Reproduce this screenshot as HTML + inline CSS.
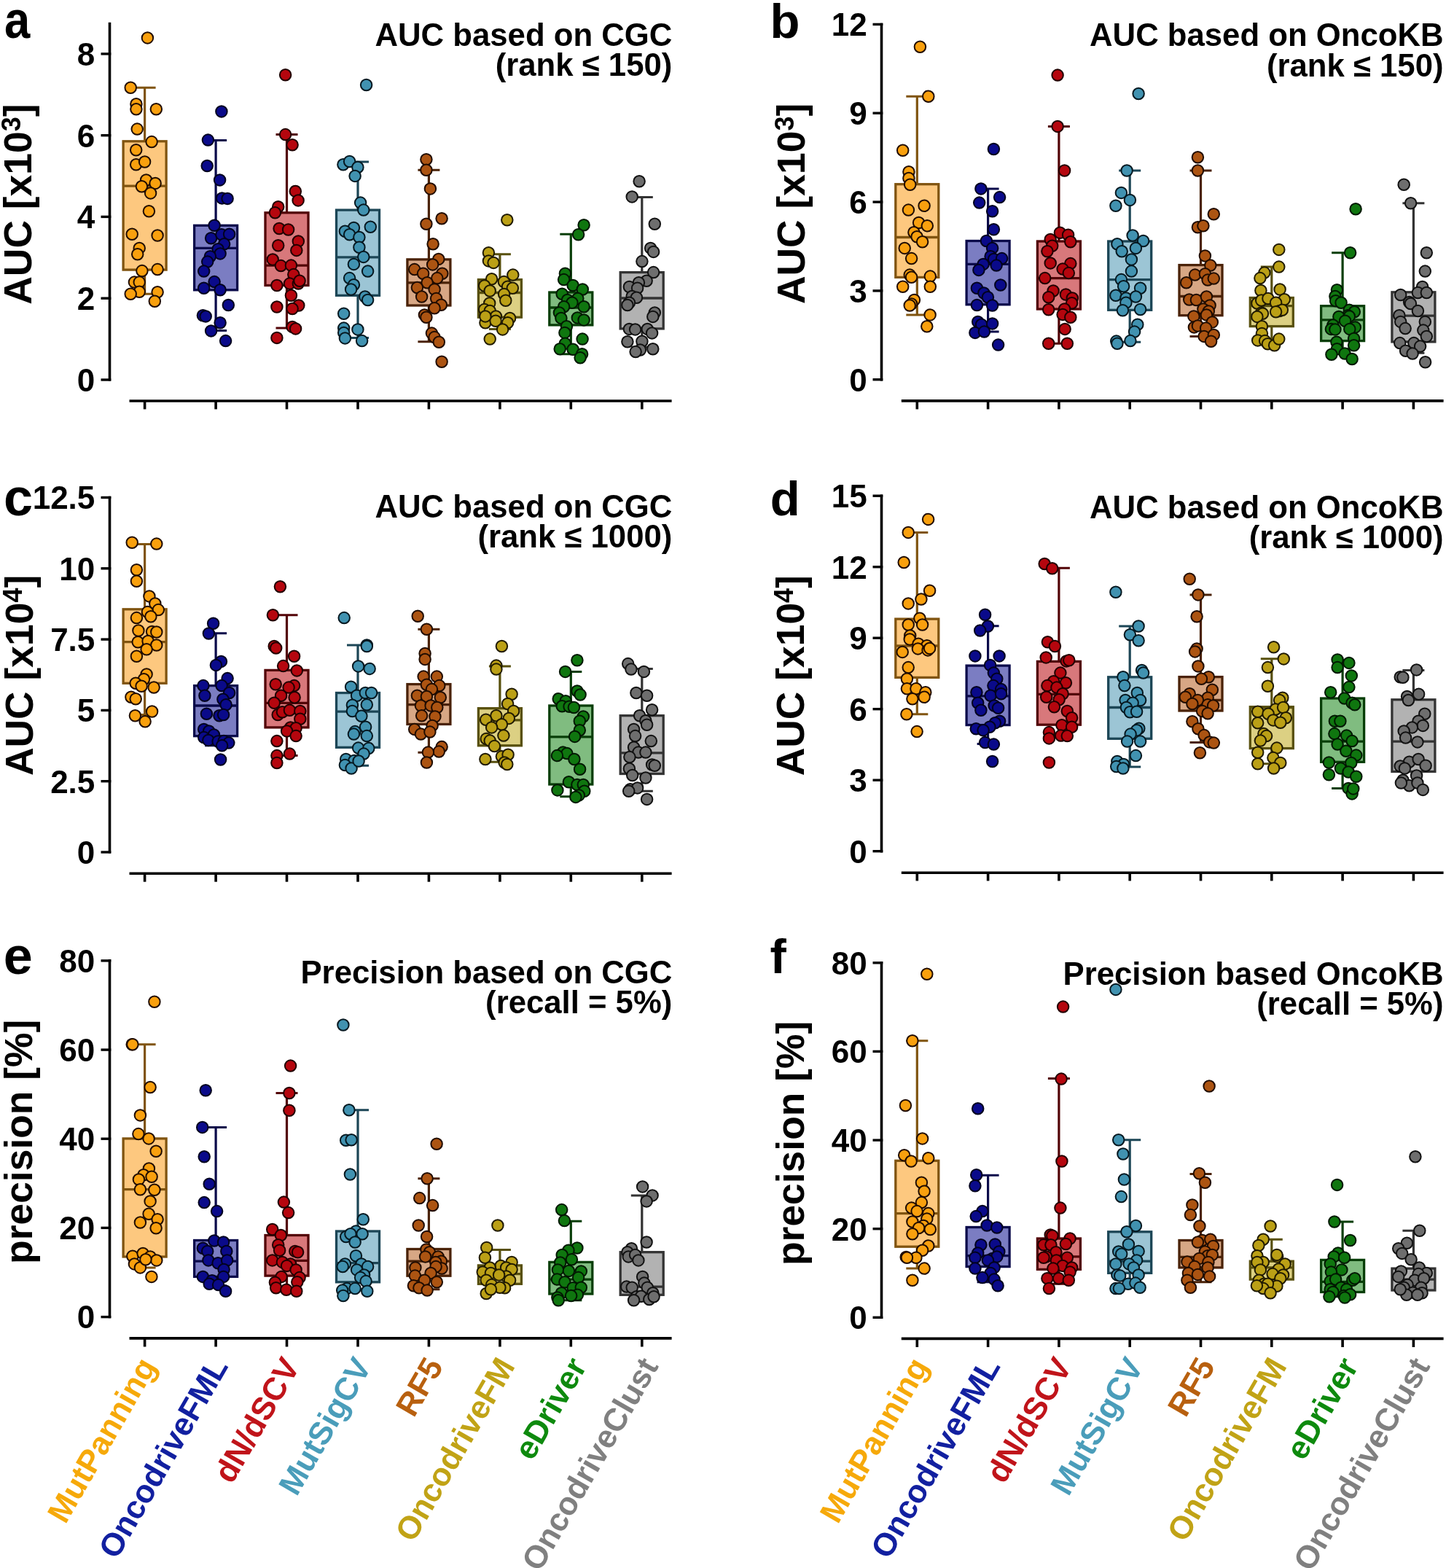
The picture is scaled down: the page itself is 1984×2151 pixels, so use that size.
<!DOCTYPE html>
<html><head><meta charset="utf-8"><title>Figure</title>
<style>
html,body{margin:0;padding:0;background:#fff;overflow:hidden;width:1984px;height:2151px;}
svg{display:block;}
text{font-family:'Liberation Sans', Arial, Helvetica, sans-serif;font-weight:bold;}
</style></head><body>
<svg width="1984" height="2151" viewBox="0 0 1984 2151">
<rect width="1984" height="2151" fill="#fff"/>
<g id="panel-a">
<text transform="translate(5.9 51.5) scale(0.88 1)" font-size="72">a</text>
<text transform="translate(42.7 280.1) rotate(-90)" font-size="53.4" text-anchor="middle">AUC [x10<tspan font-size="36" dy="-15">3</tspan><tspan dy="15">]</tspan></text>
<text x="922.3" y="63" font-size="43.7" text-anchor="end">AUC based on CGC</text>
<text x="922.3" y="104.4" font-size="43.7" text-anchor="end">(rank ≤ 150)</text>
<path d="M150.5 30.8V522.6" stroke="#000" stroke-width="3.6" fill="none"/>
<path d="M138.5 521H152.3" stroke="#000" stroke-width="3.4"/>
<text x="130.3" y="536.8" font-size="44" text-anchor="end">0</text>
<path d="M138.5 409.2H152.3" stroke="#000" stroke-width="3.4"/>
<text x="130.3" y="425" font-size="44" text-anchor="end">2</text>
<path d="M138.5 297.4H152.3" stroke="#000" stroke-width="3.4"/>
<text x="130.3" y="313.2" font-size="44" text-anchor="end">4</text>
<path d="M138.5 185.7H152.3" stroke="#000" stroke-width="3.4"/>
<text x="130.3" y="201.5" font-size="44" text-anchor="end">6</text>
<path d="M138.5 73.9H152.3" stroke="#000" stroke-width="3.4"/>
<text x="130.3" y="89.7" font-size="44" text-anchor="end">8</text>
<path d="M177.5 550H921.6" stroke="#000" stroke-width="3.6"/>
<path d="M198.6 550V561.4" stroke="#000" stroke-width="3.6"/>
<path d="M296.1 550V561.4" stroke="#000" stroke-width="3.6"/>
<path d="M393.5 550V561.4" stroke="#000" stroke-width="3.6"/>
<path d="M491 550V561.4" stroke="#000" stroke-width="3.6"/>
<path d="M588.4 550V561.4" stroke="#000" stroke-width="3.6"/>
<path d="M685.9 550V561.4" stroke="#000" stroke-width="3.6"/>
<path d="M783.3 550V561.4" stroke="#000" stroke-width="3.6"/>
<path d="M880.8 550V561.4" stroke="#000" stroke-width="3.6"/>
<g><path d="M198.6 120.3V193.8M198.6 370.1V403.3" stroke="#805410" stroke-width="3.2"/><path d="M183.6 120.3H213.6M183.6 403.3H213.6" stroke="#805410" stroke-width="3"/><rect x="169.1" y="193.8" width="59" height="176.3" fill="#FDC87F" stroke="#805410" stroke-width="3.3"/><path d="M169.1 255.2H228.1" stroke="#805410" stroke-width="3.3"/></g>
<g fill="#F9A00E" stroke="#200c00" stroke-width="2.0"><circle cx="202.4" cy="51.9" r="7.75"/><circle cx="179.2" cy="120.3" r="7.75"/><circle cx="186.9" cy="142.7" r="7.75"/><circle cx="186.9" cy="149.7" r="7.75"/><circle cx="214.3" cy="149.7" r="7.75"/><circle cx="188.2" cy="177.1" r="7.75"/><circle cx="208.1" cy="194.6" r="7.75"/><circle cx="186.7" cy="205.8" r="7.75"/><circle cx="186.7" cy="225.7" r="7.75"/><circle cx="198.6" cy="222" r="7.75"/><circle cx="200.6" cy="246.9" r="7.75"/><circle cx="194.4" cy="255.7" r="7.75"/><circle cx="213.1" cy="251.4" r="7.75"/><circle cx="206.6" cy="264.9" r="7.75"/><circle cx="204.4" cy="289.8" r="7.75"/><circle cx="181.2" cy="321.2" r="7.75"/><circle cx="216.1" cy="323" r="7.75"/><circle cx="191.2" cy="340.4" r="7.75"/><circle cx="188.7" cy="348.7" r="7.75"/><circle cx="194.9" cy="371.6" r="7.75"/><circle cx="216.1" cy="369.6" r="7.75"/><circle cx="184.4" cy="387.1" r="7.75"/><circle cx="191.2" cy="387.1" r="7.75"/><circle cx="191.2" cy="400.3" r="7.75"/><circle cx="179.2" cy="403.3" r="7.75"/><circle cx="216.1" cy="400.8" r="7.75"/><circle cx="212.3" cy="413.2" r="7.75"/></g>
<g><path d="M296.1 192.6V309.3M296.1 397.8V453.4" stroke="#0A0A4A" stroke-width="3.2"/><path d="M281.1 192.6H311.1M281.1 453.4H311.1" stroke="#0A0A4A" stroke-width="3"/><rect x="266.6" y="309.3" width="59" height="88.5" fill="#7B7DC2" stroke="#0A0A4A" stroke-width="3.3"/><path d="M266.6 340.4H325.6" stroke="#0A0A4A" stroke-width="3.3"/></g>
<g fill="#0A0A8A" stroke="#02021e" stroke-width="2.0"><circle cx="303.9" cy="152.9" r="7.75"/><circle cx="285.4" cy="192.1" r="7.75"/><circle cx="284.2" cy="227.5" r="7.75"/><circle cx="301.6" cy="246.9" r="7.75"/><circle cx="304.6" cy="271.9" r="7.75"/><circle cx="312.1" cy="272.4" r="7.75"/><circle cx="294.1" cy="309.3" r="7.75"/><circle cx="289.6" cy="326.7" r="7.75"/><circle cx="303.9" cy="321.7" r="7.75"/><circle cx="314.6" cy="321.2" r="7.75"/><circle cx="307.6" cy="334.7" r="7.75"/><circle cx="299.1" cy="341.7" r="7.75"/><circle cx="302.1" cy="347.9" r="7.75"/><circle cx="288.4" cy="351.7" r="7.75"/><circle cx="284.7" cy="359.1" r="7.75"/><circle cx="279.7" cy="372.1" r="7.75"/><circle cx="294.1" cy="386.6" r="7.75"/><circle cx="279.7" cy="395.3" r="7.75"/><circle cx="302.1" cy="397.8" r="7.75"/><circle cx="313.3" cy="418.5" r="7.75"/><circle cx="278.4" cy="432.7" r="7.75"/><circle cx="282.2" cy="433.9" r="7.75"/><circle cx="302.1" cy="442.7" r="7.75"/><circle cx="289.6" cy="453.9" r="7.75"/><circle cx="309.6" cy="467.6" r="7.75"/></g>
<g><path d="M393.5 184.6V291.8M393.5 391.5V450.1" stroke="#520306" stroke-width="3.2"/><path d="M378.5 184.6H408.5M378.5 450.1H408.5" stroke="#520306" stroke-width="3"/><rect x="364" y="291.8" width="59" height="99.7" fill="#D8787B" stroke="#520306" stroke-width="3.3"/><path d="M364 364.1H423" stroke="#520306" stroke-width="3.3"/></g>
<g fill="#B5060E" stroke="#200000" stroke-width="2.0"><circle cx="391.6" cy="102.8" r="7.75"/><circle cx="391.6" cy="184.6" r="7.75"/><circle cx="401.1" cy="198.8" r="7.75"/><circle cx="405.3" cy="262.4" r="7.75"/><circle cx="409.1" cy="274.9" r="7.75"/><circle cx="381.7" cy="283.8" r="7.75"/><circle cx="377.4" cy="291.8" r="7.75"/><circle cx="383.1" cy="313.5" r="7.75"/><circle cx="395.6" cy="315" r="7.75"/><circle cx="381.7" cy="336.7" r="7.75"/><circle cx="409.3" cy="331" r="7.75"/><circle cx="406.8" cy="343.4" r="7.75"/><circle cx="374.2" cy="355.9" r="7.75"/><circle cx="385.4" cy="364.6" r="7.75"/><circle cx="399.4" cy="364.1" r="7.75"/><circle cx="402.8" cy="376.6" r="7.75"/><circle cx="379.9" cy="391.5" r="7.75"/><circle cx="397.4" cy="389.1" r="7.75"/><circle cx="409.3" cy="389.1" r="7.75"/><circle cx="411.1" cy="385.3" r="7.75"/><circle cx="399.4" cy="405.3" r="7.75"/><circle cx="379.9" cy="421" r="7.75"/><circle cx="409.8" cy="419" r="7.75"/><circle cx="401.1" cy="423.5" r="7.75"/><circle cx="401.1" cy="448.4" r="7.75"/><circle cx="405.6" cy="450.9" r="7.75"/><circle cx="379.9" cy="463.4" r="7.75"/></g>
<g><path d="M491 222V288.1M491 405.3V463.4" stroke="#1C4656" stroke-width="3.2"/><path d="M476 222H506M476 463.4H506" stroke="#1C4656" stroke-width="3"/><rect x="461.5" y="288.1" width="59" height="117.2" fill="#9CC5D5" stroke="#1C4656" stroke-width="3.3"/><path d="M461.5 352.9H520.5" stroke="#1C4656" stroke-width="3.3"/></g>
<g fill="#4192B0" stroke="#061820" stroke-width="2.0"><circle cx="502.6" cy="116.5" r="7.75"/><circle cx="470.9" cy="225.7" r="7.75"/><circle cx="479.6" cy="221.5" r="7.75"/><circle cx="490.9" cy="229.5" r="7.75"/><circle cx="487.1" cy="241.4" r="7.75"/><circle cx="494.6" cy="278.1" r="7.75"/><circle cx="498.8" cy="288.1" r="7.75"/><circle cx="508.3" cy="311.3" r="7.75"/><circle cx="485.4" cy="312.5" r="7.75"/><circle cx="473.4" cy="317.2" r="7.75"/><circle cx="479.6" cy="321.7" r="7.75"/><circle cx="492.9" cy="325.5" r="7.75"/><circle cx="492.9" cy="339.2" r="7.75"/><circle cx="498.8" cy="352.4" r="7.75"/><circle cx="485.4" cy="362.4" r="7.75"/><circle cx="504.6" cy="372.1" r="7.75"/><circle cx="479.6" cy="381.6" r="7.75"/><circle cx="485.4" cy="390.8" r="7.75"/><circle cx="481.6" cy="397" r="7.75"/><circle cx="500.8" cy="407" r="7.75"/><circle cx="504.6" cy="411.5" r="7.75"/><circle cx="471.7" cy="430.2" r="7.75"/><circle cx="471.7" cy="450.1" r="7.75"/><circle cx="471.7" cy="456.4" r="7.75"/><circle cx="490.9" cy="451.9" r="7.75"/><circle cx="473.4" cy="463.9" r="7.75"/><circle cx="496.6" cy="467.6" r="7.75"/></g>
<g><path d="M588.4 233.2V355.9M588.4 419V468.8" stroke="#4A2208" stroke-width="3.2"/><path d="M573.4 233.2H603.4M573.4 468.8H603.4" stroke="#4A2208" stroke-width="3"/><rect x="558.9" y="355.9" width="59" height="63.1" fill="#D7A785" stroke="#4A2208" stroke-width="3.3"/><path d="M558.9 387.8H617.9" stroke="#4A2208" stroke-width="3.3"/></g>
<g fill="#AC5412" stroke="#200c00" stroke-width="2.0"><circle cx="584.9" cy="218.8" r="7.75"/><circle cx="584.9" cy="233.2" r="7.75"/><circle cx="590.4" cy="258.9" r="7.75"/><circle cx="606.1" cy="299.8" r="7.75"/><circle cx="584.9" cy="307.3" r="7.75"/><circle cx="594.1" cy="334.7" r="7.75"/><circle cx="601.8" cy="355.4" r="7.75"/><circle cx="593.6" cy="362.9" r="7.75"/><circle cx="568.7" cy="369.6" r="7.75"/><circle cx="580.6" cy="375.3" r="7.75"/><circle cx="606.8" cy="375.3" r="7.75"/><circle cx="599.8" cy="381.6" r="7.75"/><circle cx="586.1" cy="387.8" r="7.75"/><circle cx="572.4" cy="394.5" r="7.75"/><circle cx="596.1" cy="397" r="7.75"/><circle cx="578.6" cy="407" r="7.75"/><circle cx="598.6" cy="409.5" r="7.75"/><circle cx="605.3" cy="418.2" r="7.75"/><circle cx="596.1" cy="422.7" r="7.75"/><circle cx="582.4" cy="431.9" r="7.75"/><circle cx="584.9" cy="435.2" r="7.75"/><circle cx="592.4" cy="457.1" r="7.75"/><circle cx="596.1" cy="462.6" r="7.75"/><circle cx="602.3" cy="469.3" r="7.75"/><circle cx="606.1" cy="496.3" r="7.75"/></g>
<g><path d="M685.9 348.7V383.6M685.9 435.2V451.4" stroke="#58500E" stroke-width="3.2"/><path d="M670.9 348.7H700.9M670.9 451.4H700.9" stroke="#58500E" stroke-width="3"/><rect x="656.4" y="383.6" width="59" height="51.6" fill="#DCD083" stroke="#58500E" stroke-width="3.3"/><path d="M656.4 401.5H715.4" stroke="#58500E" stroke-width="3.3"/></g>
<g fill="#BBA016" stroke="#201a00" stroke-width="2.0"><circle cx="695.8" cy="301.8" r="7.75"/><circle cx="670.4" cy="346.7" r="7.75"/><circle cx="670.4" cy="357.9" r="7.75"/><circle cx="677.1" cy="360.4" r="7.75"/><circle cx="703.8" cy="377.1" r="7.75"/><circle cx="674.6" cy="382.8" r="7.75"/><circle cx="691.4" cy="386.6" r="7.75"/><circle cx="664.7" cy="392" r="7.75"/><circle cx="696.6" cy="393.3" r="7.75"/><circle cx="703.3" cy="395.3" r="7.75"/><circle cx="672.2" cy="399" r="7.75"/><circle cx="691.6" cy="403.5" r="7.75"/><circle cx="693.8" cy="412.2" r="7.75"/><circle cx="671.7" cy="416" r="7.75"/><circle cx="664.7" cy="424.5" r="7.75"/><circle cx="672.2" cy="426.5" r="7.75"/><circle cx="680.4" cy="433.9" r="7.75"/><circle cx="699.6" cy="436.4" r="7.75"/><circle cx="665.9" cy="442.7" r="7.75"/><circle cx="680.1" cy="440.2" r="7.75"/><circle cx="696.6" cy="442.7" r="7.75"/><circle cx="689.6" cy="451.9" r="7.75"/><circle cx="672.2" cy="465.1" r="7.75"/><circle cx="665.9" cy="433.9" r="7.75"/></g>
<g><path d="M783.3 321.2V401M783.3 445.9V485.8" stroke="#083E08" stroke-width="3.2"/><path d="M768.3 321.2H798.3M768.3 485.8H798.3" stroke="#083E08" stroke-width="3"/><rect x="753.8" y="401" width="59" height="44.9" fill="#80BC80" stroke="#083E08" stroke-width="3.3"/><path d="M753.8 422H812.8" stroke="#083E08" stroke-width="3.3"/></g>
<g fill="#0F760F" stroke="#021802" stroke-width="2.0"><circle cx="801.1" cy="308.8" r="7.75"/><circle cx="793.6" cy="321.7" r="7.75"/><circle cx="775.4" cy="375.3" r="7.75"/><circle cx="773.6" cy="383.6" r="7.75"/><circle cx="786.1" cy="391.5" r="7.75"/><circle cx="799.3" cy="397" r="7.75"/><circle cx="771.2" cy="403.3" r="7.75"/><circle cx="792.8" cy="409.5" r="7.75"/><circle cx="778.6" cy="411.5" r="7.75"/><circle cx="784.9" cy="415.2" r="7.75"/><circle cx="773.6" cy="420.7" r="7.75"/><circle cx="801.1" cy="420.7" r="7.75"/><circle cx="767.4" cy="429" r="7.75"/><circle cx="769.9" cy="436.4" r="7.75"/><circle cx="792.3" cy="435.9" r="7.75"/><circle cx="801.1" cy="438.9" r="7.75"/><circle cx="777.4" cy="447.7" r="7.75"/><circle cx="774.9" cy="456.4" r="7.75"/><circle cx="799.1" cy="465.1" r="7.75"/><circle cx="775.4" cy="471.3" r="7.75"/><circle cx="768.2" cy="478.8" r="7.75"/><circle cx="786.1" cy="479.3" r="7.75"/><circle cx="798.6" cy="485.8" r="7.75"/><circle cx="796.1" cy="490.8" r="7.75"/></g>
<g><path d="M880.8 270.6V373.6M880.8 450.9V476.3" stroke="#333333" stroke-width="3.2"/><path d="M865.8 270.6H895.8M865.8 476.3H895.8" stroke="#333333" stroke-width="3"/><rect x="851.2" y="373.6" width="59" height="77.3" fill="#B2B2B2" stroke="#333333" stroke-width="3.3"/><path d="M851.2 409H910.2" stroke="#333333" stroke-width="3.3"/></g>
<g fill="#6E6E6E" stroke="#111111" stroke-width="2.0"><circle cx="877.1" cy="248.7" r="7.75"/><circle cx="867.2" cy="269.9" r="7.75"/><circle cx="898.3" cy="307.3" r="7.75"/><circle cx="892.6" cy="340.4" r="7.75"/><circle cx="896.6" cy="345.4" r="7.75"/><circle cx="880.9" cy="358.6" r="7.75"/><circle cx="896.6" cy="373.6" r="7.75"/><circle cx="887.1" cy="385.3" r="7.75"/><circle cx="876.4" cy="387.8" r="7.75"/><circle cx="863.4" cy="393.5" r="7.75"/><circle cx="874.6" cy="395.3" r="7.75"/><circle cx="867.2" cy="406.5" r="7.75"/><circle cx="873.4" cy="408.3" r="7.75"/><circle cx="863.4" cy="415.2" r="7.75"/><circle cx="860.9" cy="418.5" r="7.75"/><circle cx="898.3" cy="429" r="7.75"/><circle cx="895.8" cy="434.4" r="7.75"/><circle cx="863.4" cy="451.4" r="7.75"/><circle cx="871.6" cy="451.9" r="7.75"/><circle cx="888.3" cy="451.4" r="7.75"/><circle cx="894.6" cy="456.9" r="7.75"/><circle cx="860.9" cy="468.8" r="7.75"/><circle cx="880.9" cy="468.3" r="7.75"/><circle cx="895.8" cy="478.8" r="7.75"/><circle cx="878.4" cy="480.1" r="7.75"/><circle cx="872.1" cy="482.6" r="7.75"/></g>
</g>
<g id="panel-b">
<text x="1056.4" y="51.5" font-size="67">b</text>
<text transform="translate(1103.9 279.4) rotate(-90)" font-size="53.4" text-anchor="middle">AUC [x10<tspan font-size="36" dy="-15">3</tspan><tspan dy="15">]</tspan></text>
<text x="1980.5" y="63.3" font-size="43.7" text-anchor="end">AUC based on OncoKB</text>
<text x="1980.5" y="104.7" font-size="43.7" text-anchor="end">(rank ≤ 150)</text>
<path d="M1209.5 31.7V522.4" stroke="#000" stroke-width="3.6" fill="none"/>
<path d="M1197.5 520.7H1211.3" stroke="#000" stroke-width="3.4"/>
<text x="1189.7" y="536.5" font-size="44" text-anchor="end">0</text>
<path d="M1197.5 398.9H1211.3" stroke="#000" stroke-width="3.4"/>
<text x="1189.7" y="414.7" font-size="44" text-anchor="end">3</text>
<path d="M1197.5 277.1H1211.3" stroke="#000" stroke-width="3.4"/>
<text x="1189.7" y="292.9" font-size="44" text-anchor="end">6</text>
<path d="M1197.5 155.2H1211.3" stroke="#000" stroke-width="3.4"/>
<text x="1189.7" y="171" font-size="44" text-anchor="end">9</text>
<path d="M1197.5 33.4H1211.3" stroke="#000" stroke-width="3.4"/>
<text x="1189.7" y="49.2" font-size="44" text-anchor="end">12</text>
<path d="M1236.8 549.9H1980.6" stroke="#000" stroke-width="3.6"/>
<path d="M1258.3 549.9V561.4" stroke="#000" stroke-width="3.6"/>
<path d="M1355.6 549.9V561.4" stroke="#000" stroke-width="3.6"/>
<path d="M1452.9 549.9V561.4" stroke="#000" stroke-width="3.6"/>
<path d="M1550.2 549.9V561.4" stroke="#000" stroke-width="3.6"/>
<path d="M1647.5 549.9V561.4" stroke="#000" stroke-width="3.6"/>
<path d="M1744.8 549.9V561.4" stroke="#000" stroke-width="3.6"/>
<path d="M1842.1 549.9V561.4" stroke="#000" stroke-width="3.6"/>
<path d="M1939.4 549.9V561.4" stroke="#000" stroke-width="3.6"/>
<g><path d="M1258.3 132.2V252.7M1258.3 380.3V431.9" stroke="#805410" stroke-width="3.2"/><path d="M1243.3 132.2H1273.3M1243.3 431.9H1273.3" stroke="#805410" stroke-width="3"/><rect x="1228.8" y="252.7" width="59" height="127.7" fill="#FDC87F" stroke="#805410" stroke-width="3.3"/><path d="M1228.8 325.5H1287.8" stroke="#805410" stroke-width="3.3"/></g>
<g fill="#F9A00E" stroke="#200c00" stroke-width="2.0"><circle cx="1262.4" cy="64.2" r="7.75"/><circle cx="1273.8" cy="132.2" r="7.75"/><circle cx="1238.7" cy="206.3" r="7.75"/><circle cx="1246.9" cy="235.7" r="7.75"/><circle cx="1246.9" cy="244.4" r="7.75"/><circle cx="1248.7" cy="253.2" r="7.75"/><circle cx="1246.4" cy="288.1" r="7.75"/><circle cx="1268.1" cy="282.3" r="7.75"/><circle cx="1260.6" cy="305.5" r="7.75"/><circle cx="1272.3" cy="309.8" r="7.75"/><circle cx="1253.9" cy="318.7" r="7.75"/><circle cx="1258.1" cy="324.7" r="7.75"/><circle cx="1265.6" cy="331.7" r="7.75"/><circle cx="1241.2" cy="340.4" r="7.75"/><circle cx="1250.6" cy="354.6" r="7.75"/><circle cx="1248.2" cy="377.1" r="7.75"/><circle cx="1250.6" cy="380.3" r="7.75"/><circle cx="1276.3" cy="379.1" r="7.75"/><circle cx="1238.7" cy="393.3" r="7.75"/><circle cx="1276.3" cy="393.3" r="7.75"/><circle cx="1254.4" cy="411.5" r="7.75"/><circle cx="1250.6" cy="417" r="7.75"/><circle cx="1248.2" cy="419" r="7.75"/><circle cx="1276.1" cy="431.9" r="7.75"/><circle cx="1271.8" cy="447.7" r="7.75"/></g>
<g><path d="M1355.6 258.9V330.5M1355.6 417.7V455.1" stroke="#0A0A4A" stroke-width="3.2"/><path d="M1340.6 258.9H1370.6M1340.6 455.1H1370.6" stroke="#0A0A4A" stroke-width="3"/><rect x="1326.1" y="330.5" width="59" height="87.3" fill="#7B7DC2" stroke="#0A0A4A" stroke-width="3.3"/><path d="M1326.1 362.4H1385.1" stroke="#0A0A4A" stroke-width="3.3"/></g>
<g fill="#0A0A8A" stroke="#02021e" stroke-width="2.0"><circle cx="1363.4" cy="204.5" r="7.75"/><circle cx="1345.9" cy="258.9" r="7.75"/><circle cx="1371.6" cy="270.6" r="7.75"/><circle cx="1343.7" cy="278.1" r="7.75"/><circle cx="1361.6" cy="289.8" r="7.75"/><circle cx="1363.4" cy="314.8" r="7.75"/><circle cx="1353.4" cy="330.5" r="7.75"/><circle cx="1361.6" cy="340.4" r="7.75"/><circle cx="1359.1" cy="351.7" r="7.75"/><circle cx="1363.6" cy="355.4" r="7.75"/><circle cx="1374.6" cy="354.6" r="7.75"/><circle cx="1349.1" cy="362.4" r="7.75"/><circle cx="1367.1" cy="364.1" r="7.75"/><circle cx="1342.9" cy="370.4" r="7.75"/><circle cx="1372.8" cy="391" r="7.75"/><circle cx="1340.4" cy="395.3" r="7.75"/><circle cx="1349.9" cy="402" r="7.75"/><circle cx="1355.4" cy="407.8" r="7.75"/><circle cx="1340.4" cy="418.5" r="7.75"/><circle cx="1361.6" cy="419" r="7.75"/><circle cx="1341.7" cy="441.4" r="7.75"/><circle cx="1346.6" cy="445.2" r="7.75"/><circle cx="1361.6" cy="443.9" r="7.75"/><circle cx="1337.9" cy="456.4" r="7.75"/><circle cx="1350.4" cy="455.1" r="7.75"/><circle cx="1369.6" cy="473.1" r="7.75"/></g>
<g><path d="M1452.9 173.4V331M1452.9 424V471.3" stroke="#520306" stroke-width="3.2"/><path d="M1437.9 173.4H1467.9M1437.9 471.3H1467.9" stroke="#520306" stroke-width="3"/><rect x="1423.4" y="331" width="59" height="93" fill="#D8787B" stroke="#520306" stroke-width="3.3"/><path d="M1423.4 381.6H1482.4" stroke="#520306" stroke-width="3.3"/></g>
<g fill="#B5060E" stroke="#200000" stroke-width="2.0"><circle cx="1451.1" cy="103.1" r="7.75"/><circle cx="1451.1" cy="173.4" r="7.75"/><circle cx="1460.6" cy="234" r="7.75"/><circle cx="1454.4" cy="319.2" r="7.75"/><circle cx="1465.6" cy="322.2" r="7.75"/><circle cx="1441.2" cy="328.5" r="7.75"/><circle cx="1468.8" cy="331.7" r="7.75"/><circle cx="1443.7" cy="337.2" r="7.75"/><circle cx="1436.9" cy="344.7" r="7.75"/><circle cx="1441.2" cy="360.9" r="7.75"/><circle cx="1468.8" cy="361.6" r="7.75"/><circle cx="1458.1" cy="369.1" r="7.75"/><circle cx="1466.3" cy="374.6" r="7.75"/><circle cx="1433.7" cy="381.6" r="7.75"/><circle cx="1445.1" cy="399" r="7.75"/><circle cx="1438.7" cy="407.8" r="7.75"/><circle cx="1462.4" cy="404" r="7.75"/><circle cx="1471.3" cy="409" r="7.75"/><circle cx="1470.6" cy="415.7" r="7.75"/><circle cx="1438.7" cy="424.7" r="7.75"/><circle cx="1460.6" cy="424" r="7.75"/><circle cx="1458.1" cy="431.4" r="7.75"/><circle cx="1468.8" cy="435.2" r="7.75"/><circle cx="1461.1" cy="451.4" r="7.75"/><circle cx="1438.7" cy="471.3" r="7.75"/><circle cx="1464.3" cy="471.3" r="7.75"/></g>
<g><path d="M1550.2 234V331M1550.2 425.2V469.3" stroke="#1C4656" stroke-width="3.2"/><path d="M1535.2 234H1565.2M1535.2 469.3H1565.2" stroke="#1C4656" stroke-width="3"/><rect x="1520.7" y="331" width="59" height="94.3" fill="#9CC5D5" stroke="#1C4656" stroke-width="3.3"/><path d="M1520.7 383.6H1579.7" stroke="#1C4656" stroke-width="3.3"/></g>
<g fill="#4192B0" stroke="#061820" stroke-width="2.0"><circle cx="1562.1" cy="128.5" r="7.75"/><circle cx="1546.1" cy="234" r="7.75"/><circle cx="1538.4" cy="264.4" r="7.75"/><circle cx="1550.4" cy="274.4" r="7.75"/><circle cx="1530.9" cy="282.3" r="7.75"/><circle cx="1554.1" cy="323" r="7.75"/><circle cx="1568.6" cy="330.5" r="7.75"/><circle cx="1532.9" cy="334.7" r="7.75"/><circle cx="1539.2" cy="344.7" r="7.75"/><circle cx="1558.4" cy="340.4" r="7.75"/><circle cx="1552.4" cy="355.9" r="7.75"/><circle cx="1552.4" cy="372.1" r="7.75"/><circle cx="1538.4" cy="383.6" r="7.75"/><circle cx="1541.6" cy="392.8" r="7.75"/><circle cx="1564.6" cy="395.3" r="7.75"/><circle cx="1530.9" cy="405.3" r="7.75"/><circle cx="1544.9" cy="409" r="7.75"/><circle cx="1558.4" cy="407" r="7.75"/><circle cx="1544.9" cy="415.2" r="7.75"/><circle cx="1540.4" cy="425.7" r="7.75"/><circle cx="1564.6" cy="424.5" r="7.75"/><circle cx="1560.8" cy="445.2" r="7.75"/><circle cx="1556.6" cy="455.1" r="7.75"/><circle cx="1531.7" cy="468.1" r="7.75"/><circle cx="1532.9" cy="471.3" r="7.75"/><circle cx="1550.9" cy="467.6" r="7.75"/></g>
<g><path d="M1647.5 234V363.6M1647.5 432.7V461.4" stroke="#4A2208" stroke-width="3.2"/><path d="M1632.5 234H1662.5M1632.5 461.4H1662.5" stroke="#4A2208" stroke-width="3"/><rect x="1618" y="363.6" width="59" height="69.1" fill="#D7A785" stroke="#4A2208" stroke-width="3.3"/><path d="M1618 406.5H1677" stroke="#4A2208" stroke-width="3.3"/></g>
<g fill="#AC5412" stroke="#200c00" stroke-width="2.0"><circle cx="1643.4" cy="215.8" r="7.75"/><circle cx="1643.4" cy="234" r="7.75"/><circle cx="1665.3" cy="293.8" r="7.75"/><circle cx="1643.4" cy="311.8" r="7.75"/><circle cx="1650.9" cy="309.8" r="7.75"/><circle cx="1653.4" cy="350.9" r="7.75"/><circle cx="1660.8" cy="364.1" r="7.75"/><circle cx="1639.6" cy="377.1" r="7.75"/><circle cx="1653.4" cy="375.8" r="7.75"/><circle cx="1657.1" cy="384.1" r="7.75"/><circle cx="1665.3" cy="382.1" r="7.75"/><circle cx="1627.7" cy="387.8" r="7.75"/><circle cx="1631.7" cy="411" r="7.75"/><circle cx="1641.4" cy="411.5" r="7.75"/><circle cx="1655.4" cy="407" r="7.75"/><circle cx="1660.1" cy="419" r="7.75"/><circle cx="1650.9" cy="424" r="7.75"/><circle cx="1658.3" cy="427" r="7.75"/><circle cx="1637.9" cy="433.9" r="7.75"/><circle cx="1655.4" cy="431.9" r="7.75"/><circle cx="1663.3" cy="441.9" r="7.75"/><circle cx="1638.4" cy="448.9" r="7.75"/><circle cx="1643.4" cy="446.9" r="7.75"/><circle cx="1654.6" cy="450.1" r="7.75"/><circle cx="1652.1" cy="461.4" r="7.75"/><circle cx="1665.3" cy="459.4" r="7.75"/><circle cx="1661.6" cy="468.3" r="7.75"/></g>
<g><path d="M1744.8 366.1V408.5M1744.8 447.7V465.1" stroke="#58500E" stroke-width="3.2"/><path d="M1729.8 366.1H1759.8M1729.8 465.1H1759.8" stroke="#58500E" stroke-width="3"/><rect x="1715.3" y="408.5" width="59" height="39.1" fill="#DCD083" stroke="#58500E" stroke-width="3.3"/><path d="M1715.3 419.7H1774.3" stroke="#58500E" stroke-width="3.3"/></g>
<g fill="#BBA016" stroke="#201a00" stroke-width="2.0"><circle cx="1754.8" cy="342.4" r="7.75"/><circle cx="1754.8" cy="366.1" r="7.75"/><circle cx="1734.9" cy="374.1" r="7.75"/><circle cx="1728.9" cy="381.6" r="7.75"/><circle cx="1756.1" cy="397" r="7.75"/><circle cx="1729.9" cy="398.5" r="7.75"/><circle cx="1724.9" cy="416" r="7.75"/><circle cx="1730.7" cy="412" r="7.75"/><circle cx="1739.9" cy="409.5" r="7.75"/><circle cx="1762.3" cy="410.7" r="7.75"/><circle cx="1750.6" cy="415.2" r="7.75"/><circle cx="1755.6" cy="426.5" r="7.75"/><circle cx="1759.3" cy="425.2" r="7.75"/><circle cx="1730.7" cy="429" r="7.75"/><circle cx="1732.4" cy="430.2" r="7.75"/><circle cx="1750.6" cy="427.7" r="7.75"/><circle cx="1724.9" cy="434.4" r="7.75"/><circle cx="1731.4" cy="447.7" r="7.75"/><circle cx="1731.4" cy="457.6" r="7.75"/><circle cx="1725.7" cy="466.9" r="7.75"/><circle cx="1735.6" cy="467.6" r="7.75"/><circle cx="1739.4" cy="471.8" r="7.75"/><circle cx="1748.6" cy="473.8" r="7.75"/><circle cx="1754.8" cy="465.1" r="7.75"/></g>
<g><path d="M1842.1 346.7V419.7M1842.1 467.6V478.8" stroke="#083E08" stroke-width="3.2"/><path d="M1827.1 346.7H1857.1M1827.1 478.8H1857.1" stroke="#083E08" stroke-width="3"/><rect x="1812.6" y="419.7" width="59" height="47.9" fill="#80BC80" stroke="#083E08" stroke-width="3.3"/><path d="M1812.6 438.9H1871.6" stroke="#083E08" stroke-width="3.3"/></g>
<g fill="#0F760F" stroke="#021802" stroke-width="2.0"><circle cx="1860.1" cy="286.8" r="7.75"/><circle cx="1852.6" cy="346.7" r="7.75"/><circle cx="1834.4" cy="397.8" r="7.75"/><circle cx="1831.9" cy="406.5" r="7.75"/><circle cx="1832.6" cy="412.7" r="7.75"/><circle cx="1840.1" cy="415.2" r="7.75"/><circle cx="1851.3" cy="425.2" r="7.75"/><circle cx="1858.3" cy="427.7" r="7.75"/><circle cx="1849.4" cy="432.7" r="7.75"/><circle cx="1836.9" cy="434.4" r="7.75"/><circle cx="1851.3" cy="433.9" r="7.75"/><circle cx="1845.6" cy="440.2" r="7.75"/><circle cx="1828.9" cy="445.9" r="7.75"/><circle cx="1859.3" cy="448.9" r="7.75"/><circle cx="1826.4" cy="451.4" r="7.75"/><circle cx="1831.9" cy="451.9" r="7.75"/><circle cx="1851.8" cy="451.4" r="7.75"/><circle cx="1857.6" cy="464.4" r="7.75"/><circle cx="1833.9" cy="469.3" r="7.75"/><circle cx="1857.6" cy="473.8" r="7.75"/><circle cx="1834.4" cy="478.8" r="7.75"/><circle cx="1826.9" cy="486.3" r="7.75"/><circle cx="1845.1" cy="485.1" r="7.75"/><circle cx="1855.1" cy="492.5" r="7.75"/></g>
<g><path d="M1939.4 278.8V400.8M1939.4 468.8V484.3" stroke="#333333" stroke-width="3.2"/><path d="M1924.4 278.8H1954.4M1924.4 484.3H1954.4" stroke="#333333" stroke-width="3"/><rect x="1909.9" y="400.8" width="59" height="68.1" fill="#B2B2B2" stroke="#333333" stroke-width="3.3"/><path d="M1909.9 433.2H1968.9" stroke="#333333" stroke-width="3.3"/></g>
<g fill="#6E6E6E" stroke="#111111" stroke-width="2.0"><circle cx="1926.2" cy="253.2" r="7.75"/><circle cx="1935.6" cy="278.8" r="7.75"/><circle cx="1957.3" cy="346.7" r="7.75"/><circle cx="1955.3" cy="372.1" r="7.75"/><circle cx="1951.6" cy="393.5" r="7.75"/><circle cx="1921.7" cy="404.5" r="7.75"/><circle cx="1945.4" cy="401.5" r="7.75"/><circle cx="1957.3" cy="401.5" r="7.75"/><circle cx="1933.6" cy="414.5" r="7.75"/><circle cx="1935.4" cy="416.5" r="7.75"/><circle cx="1945.4" cy="426.5" r="7.75"/><circle cx="1919.9" cy="432.7" r="7.75"/><circle cx="1921.7" cy="441.4" r="7.75"/><circle cx="1955.3" cy="441.4" r="7.75"/><circle cx="1928.1" cy="450.6" r="7.75"/><circle cx="1952.8" cy="453.1" r="7.75"/><circle cx="1957.3" cy="461.4" r="7.75"/><circle cx="1920.7" cy="470.6" r="7.75"/><circle cx="1939.9" cy="470.6" r="7.75"/><circle cx="1948.6" cy="475.1" r="7.75"/><circle cx="1928.6" cy="481.3" r="7.75"/><circle cx="1938.1" cy="485.1" r="7.75"/><circle cx="1955.6" cy="496.8" r="7.75"/></g>
</g>
<g id="panel-c">
<text x="4.9" y="707" font-size="72">c</text>
<text transform="translate(44.6 926.4) rotate(-90)" font-size="53.4" text-anchor="middle">AUC [x10<tspan font-size="36" dy="-15">4</tspan><tspan dy="15">]</tspan></text>
<text x="922.3" y="710" font-size="43.7" text-anchor="end">AUC based on CGC</text>
<text x="922.3" y="751.4" font-size="43.7" text-anchor="end">(rank ≤ 1000)</text>
<path d="M150.5 680.7V1170.6" stroke="#000" stroke-width="3.6" fill="none"/>
<path d="M138.5 1169H152.3" stroke="#000" stroke-width="3.4"/>
<text x="130.3" y="1184.8" font-size="44" text-anchor="end">0</text>
<path d="M138.5 1071.7H152.3" stroke="#000" stroke-width="3.4"/>
<text x="130.3" y="1087.5" font-size="44" text-anchor="end">2.5</text>
<path d="M138.5 974.4H152.3" stroke="#000" stroke-width="3.4"/>
<text x="130.3" y="990.2" font-size="44" text-anchor="end">5</text>
<path d="M138.5 877.1H152.3" stroke="#000" stroke-width="3.4"/>
<text x="130.3" y="892.9" font-size="44" text-anchor="end">7.5</text>
<path d="M138.5 779.8H152.3" stroke="#000" stroke-width="3.4"/>
<text x="130.3" y="795.6" font-size="44" text-anchor="end">10</text>
<path d="M138.5 682.5H152.3" stroke="#000" stroke-width="3.4"/>
<text x="130.3" y="698.3" font-size="44" text-anchor="end">12.5</text>
<path d="M177.5 1198.2H921.6" stroke="#000" stroke-width="3.6"/>
<path d="M198.6 1198.2V1209.7" stroke="#000" stroke-width="3.6"/>
<path d="M296.1 1198.2V1209.7" stroke="#000" stroke-width="3.6"/>
<path d="M393.5 1198.2V1209.7" stroke="#000" stroke-width="3.6"/>
<path d="M491 1198.2V1209.7" stroke="#000" stroke-width="3.6"/>
<path d="M588.4 1198.2V1209.7" stroke="#000" stroke-width="3.6"/>
<path d="M685.9 1198.2V1209.7" stroke="#000" stroke-width="3.6"/>
<path d="M783.3 1198.2V1209.7" stroke="#000" stroke-width="3.6"/>
<path d="M880.8 1198.2V1209.7" stroke="#000" stroke-width="3.6"/>
<g><path d="M198.6 746.6V835.8M198.6 937.3V980.5" stroke="#805410" stroke-width="3.2"/><path d="M183.6 746.6H213.6M183.6 980.5H213.6" stroke="#805410" stroke-width="3"/><rect x="169.1" y="835.8" width="59" height="101.5" fill="#FDC87F" stroke="#805410" stroke-width="3.3"/><path d="M169.1 880.7H228.1" stroke="#805410" stroke-width="3.3"/></g>
<g fill="#F9A00E" stroke="#200c00" stroke-width="2.0"><circle cx="181.2" cy="744.3" r="7.75"/><circle cx="214.8" cy="746.1" r="7.75"/><circle cx="187.4" cy="781.7" r="7.75"/><circle cx="187.4" cy="797.2" r="7.75"/><circle cx="204.9" cy="817.9" r="7.75"/><circle cx="212.8" cy="827.9" r="7.75"/><circle cx="217.3" cy="836.6" r="7.75"/><circle cx="202.4" cy="839.6" r="7.75"/><circle cx="206.9" cy="845.8" r="7.75"/><circle cx="187.4" cy="847.6" r="7.75"/><circle cx="189.9" cy="865" r="7.75"/><circle cx="208.6" cy="866.5" r="7.75"/><circle cx="214.8" cy="867" r="7.75"/><circle cx="189.2" cy="880.7" r="7.75"/><circle cx="203.1" cy="879.5" r="7.75"/><circle cx="214.8" cy="885" r="7.75"/><circle cx="201.1" cy="890.7" r="7.75"/><circle cx="187.4" cy="900.2" r="7.75"/><circle cx="201.1" cy="924.9" r="7.75"/><circle cx="197.4" cy="931.8" r="7.75"/><circle cx="186.2" cy="937.3" r="7.75"/><circle cx="194.1" cy="941.3" r="7.75"/><circle cx="211.1" cy="943.1" r="7.75"/><circle cx="179.9" cy="956.3" r="7.75"/><circle cx="186.2" cy="958.8" r="7.75"/><circle cx="208.6" cy="976" r="7.75"/><circle cx="185.4" cy="981.7" r="7.75"/><circle cx="199.1" cy="989.7" r="7.75"/></g>
<g><path d="M296.1 868.8V940.6M296.1 1009.6V1022.8" stroke="#0A0A4A" stroke-width="3.2"/><path d="M281.1 868.8H311.1M281.1 1022.8H311.1" stroke="#0A0A4A" stroke-width="3"/><rect x="266.6" y="940.6" width="59" height="69.1" fill="#7B7DC2" stroke="#0A0A4A" stroke-width="3.3"/><path d="M266.6 968H325.6" stroke="#0A0A4A" stroke-width="3.3"/></g>
<g fill="#0A0A8A" stroke="#02021e" stroke-width="2.0"><circle cx="292.6" cy="855.3" r="7.75"/><circle cx="286.4" cy="869" r="7.75"/><circle cx="303.4" cy="907.4" r="7.75"/><circle cx="296.4" cy="912.4" r="7.75"/><circle cx="312.1" cy="930.6" r="7.75"/><circle cx="278.9" cy="940.6" r="7.75"/><circle cx="304.1" cy="940.6" r="7.75"/><circle cx="280.9" cy="954.3" r="7.75"/><circle cx="314.6" cy="950.5" r="7.75"/><circle cx="305.9" cy="959.3" r="7.75"/><circle cx="310.1" cy="966.7" r="7.75"/><circle cx="283.4" cy="979.2" r="7.75"/><circle cx="300.9" cy="981.7" r="7.75"/><circle cx="306.6" cy="980.5" r="7.75"/><circle cx="279.7" cy="1000.4" r="7.75"/><circle cx="286.7" cy="1002.9" r="7.75"/><circle cx="293.4" cy="1007.9" r="7.75"/><circle cx="279.7" cy="1011.6" r="7.75"/><circle cx="285.9" cy="1015.4" r="7.75"/><circle cx="299.1" cy="1017.1" r="7.75"/><circle cx="307.1" cy="1016.6" r="7.75"/><circle cx="313.8" cy="1019.1" r="7.75"/><circle cx="304.6" cy="1022.8" r="7.75"/><circle cx="302.6" cy="1042" r="7.75"/></g>
<g><path d="M393.5 843.8V919.4M393.5 997.9V1036.6" stroke="#520306" stroke-width="3.2"/><path d="M378.5 843.8H408.5M378.5 1036.6H408.5" stroke="#520306" stroke-width="3"/><rect x="364" y="919.4" width="59" height="78.5" fill="#D8787B" stroke="#520306" stroke-width="3.3"/><path d="M364 964.3H423" stroke="#520306" stroke-width="3.3"/></g>
<g fill="#B5060E" stroke="#200000" stroke-width="2.0"><circle cx="384.4" cy="804.7" r="7.75"/><circle cx="374.4" cy="843.8" r="7.75"/><circle cx="376.2" cy="886.5" r="7.75"/><circle cx="378.7" cy="889" r="7.75"/><circle cx="403.6" cy="900.2" r="7.75"/><circle cx="388.6" cy="913.6" r="7.75"/><circle cx="407.3" cy="919.9" r="7.75"/><circle cx="378.2" cy="938.8" r="7.75"/><circle cx="403.6" cy="940.6" r="7.75"/><circle cx="396.1" cy="943.1" r="7.75"/><circle cx="385.6" cy="954.3" r="7.75"/><circle cx="404.1" cy="956.8" r="7.75"/><circle cx="376.2" cy="964.3" r="7.75"/><circle cx="381.2" cy="980.5" r="7.75"/><circle cx="387.4" cy="976.7" r="7.75"/><circle cx="397.4" cy="974.2" r="7.75"/><circle cx="411.8" cy="975.5" r="7.75"/><circle cx="411.8" cy="986.2" r="7.75"/><circle cx="398.6" cy="997.9" r="7.75"/><circle cx="406.1" cy="998.7" r="7.75"/><circle cx="393.6" cy="1002.9" r="7.75"/><circle cx="406.1" cy="1009.6" r="7.75"/><circle cx="379.9" cy="1016.6" r="7.75"/><circle cx="397.4" cy="1034.1" r="7.75"/><circle cx="379.9" cy="1036.6" r="7.75"/><circle cx="379.9" cy="1046.5" r="7.75"/></g>
<g><path d="M491 885V950.5M491 1025.3V1050.3" stroke="#1C4656" stroke-width="3.2"/><path d="M476 885H506M476 1050.3H506" stroke="#1C4656" stroke-width="3"/><rect x="461.5" y="950.5" width="59" height="74.8" fill="#9CC5D5" stroke="#1C4656" stroke-width="3.3"/><path d="M461.5 976.2H520.5" stroke="#1C4656" stroke-width="3.3"/></g>
<g fill="#4192B0" stroke="#061820" stroke-width="2.0"><circle cx="472.2" cy="847.6" r="7.75"/><circle cx="503.3" cy="885" r="7.75"/><circle cx="503.3" cy="886.5" r="7.75"/><circle cx="491.6" cy="913.9" r="7.75"/><circle cx="507.1" cy="917.4" r="7.75"/><circle cx="481.6" cy="942.3" r="7.75"/><circle cx="489.6" cy="954.3" r="7.75"/><circle cx="501.3" cy="950.5" r="7.75"/><circle cx="509.6" cy="950.5" r="7.75"/><circle cx="483.4" cy="967.2" r="7.75"/><circle cx="503.3" cy="966.7" r="7.75"/><circle cx="483.4" cy="975.5" r="7.75"/><circle cx="495.9" cy="982.2" r="7.75"/><circle cx="501.6" cy="997.2" r="7.75"/><circle cx="487.1" cy="1003.6" r="7.75"/><circle cx="485.4" cy="1007.1" r="7.75"/><circle cx="503.3" cy="1009.6" r="7.75"/><circle cx="491.6" cy="1026.1" r="7.75"/><circle cx="505.8" cy="1026.6" r="7.75"/><circle cx="499.1" cy="1034.1" r="7.75"/><circle cx="474.7" cy="1041.5" r="7.75"/><circle cx="485.9" cy="1043.5" r="7.75"/><circle cx="473.4" cy="1049.5" r="7.75"/><circle cx="482.1" cy="1054" r="7.75"/><circle cx="492.1" cy="1044" r="7.75"/></g>
<g><path d="M588.4 863.3V938.6M588.4 993.4V1032.3" stroke="#4A2208" stroke-width="3.2"/><path d="M573.4 863.3H603.4M573.4 1032.3H603.4" stroke="#4A2208" stroke-width="3"/><rect x="558.9" y="938.6" width="59" height="54.9" fill="#D7A785" stroke="#4A2208" stroke-width="3.3"/><path d="M558.9 966.7H617.9" stroke="#4A2208" stroke-width="3.3"/></g>
<g fill="#AC5412" stroke="#200c00" stroke-width="2.0"><circle cx="573.2" cy="845.3" r="7.75"/><circle cx="585.4" cy="863.3" r="7.75"/><circle cx="583.1" cy="896.4" r="7.75"/><circle cx="583.1" cy="904.4" r="7.75"/><circle cx="581.1" cy="928.1" r="7.75"/><circle cx="599.3" cy="928.1" r="7.75"/><circle cx="585.4" cy="939.3" r="7.75"/><circle cx="602.8" cy="940.6" r="7.75"/><circle cx="592.4" cy="945.6" r="7.75"/><circle cx="572.4" cy="954.3" r="7.75"/><circle cx="585.4" cy="955.5" r="7.75"/><circle cx="604.3" cy="956.8" r="7.75"/><circle cx="577.4" cy="968" r="7.75"/><circle cx="591.1" cy="968" r="7.75"/><circle cx="599.8" cy="970.5" r="7.75"/><circle cx="578.6" cy="981.7" r="7.75"/><circle cx="596.9" cy="983" r="7.75"/><circle cx="593.1" cy="995.4" r="7.75"/><circle cx="568.7" cy="1000.4" r="7.75"/><circle cx="577.4" cy="1007.1" r="7.75"/><circle cx="589.9" cy="1004.1" r="7.75"/><circle cx="606.1" cy="1024.6" r="7.75"/><circle cx="602.3" cy="1031.1" r="7.75"/><circle cx="587.4" cy="1032.1" r="7.75"/><circle cx="585.4" cy="1046" r="7.75"/></g>
<g><path d="M685.9 913.9V971.7M685.9 1022.8V1045.3" stroke="#58500E" stroke-width="3.2"/><path d="M670.9 913.9H700.9M670.9 1045.3H700.9" stroke="#58500E" stroke-width="3"/><rect x="656.4" y="971.7" width="59" height="51.1" fill="#DCD083" stroke="#58500E" stroke-width="3.3"/><path d="M656.4 987.9H715.4" stroke="#58500E" stroke-width="3.3"/></g>
<g fill="#BBA016" stroke="#201a00" stroke-width="2.0"><circle cx="688.4" cy="886.5" r="7.75"/><circle cx="680.9" cy="913.1" r="7.75"/><circle cx="680.9" cy="918.1" r="7.75"/><circle cx="702.1" cy="952.3" r="7.75"/><circle cx="696.6" cy="965.5" r="7.75"/><circle cx="704.6" cy="975.5" r="7.75"/><circle cx="680.9" cy="981.7" r="7.75"/><circle cx="666.7" cy="987.2" r="7.75"/><circle cx="698.3" cy="985.4" r="7.75"/><circle cx="688.4" cy="993.7" r="7.75"/><circle cx="674.6" cy="997.9" r="7.75"/><circle cx="690.9" cy="1009.1" r="7.75"/><circle cx="667.2" cy="1013.6" r="7.75"/><circle cx="672.2" cy="1016.1" r="7.75"/><circle cx="678.4" cy="1023.6" r="7.75"/><circle cx="665.9" cy="1041.5" r="7.75"/><circle cx="688.4" cy="1037.8" r="7.75"/><circle cx="697.1" cy="1035.3" r="7.75"/><circle cx="692.1" cy="1046" r="7.75"/><circle cx="695.8" cy="1048.5" r="7.75"/></g>
<g><path d="M783.3 921.4V968M783.3 1076V1092.7" stroke="#083E08" stroke-width="3.2"/><path d="M768.3 921.4H798.3M768.3 1092.7H798.3" stroke="#083E08" stroke-width="3"/><rect x="753.8" y="968" width="59" height="108" fill="#80BC80" stroke="#083E08" stroke-width="3.3"/><path d="M753.8 1010.9H812.8" stroke="#083E08" stroke-width="3.3"/></g>
<g fill="#0F760F" stroke="#021802" stroke-width="2.0"><circle cx="791.9" cy="905.7" r="7.75"/><circle cx="775.6" cy="921.4" r="7.75"/><circle cx="791.9" cy="948" r="7.75"/><circle cx="796.1" cy="953" r="7.75"/><circle cx="766.2" cy="958.8" r="7.75"/><circle cx="776.1" cy="961.8" r="7.75"/><circle cx="771.2" cy="968.7" r="7.75"/><circle cx="781.1" cy="969.2" r="7.75"/><circle cx="787.4" cy="970.5" r="7.75"/><circle cx="800.3" cy="983" r="7.75"/><circle cx="795.3" cy="989.2" r="7.75"/><circle cx="795.3" cy="1001.7" r="7.75"/><circle cx="788.6" cy="1010.4" r="7.75"/><circle cx="772.4" cy="1032.1" r="7.75"/><circle cx="777.9" cy="1033.6" r="7.75"/><circle cx="764.4" cy="1036.6" r="7.75"/><circle cx="787.9" cy="1041.5" r="7.75"/><circle cx="795.6" cy="1055.3" r="7.75"/><circle cx="780.4" cy="1072.7" r="7.75"/><circle cx="791.9" cy="1076.5" r="7.75"/><circle cx="800.3" cy="1076.5" r="7.75"/><circle cx="801.8" cy="1085.2" r="7.75"/><circle cx="764.9" cy="1083.9" r="7.75"/><circle cx="794.3" cy="1090.9" r="7.75"/><circle cx="789.9" cy="1093.4" r="7.75"/></g>
<g><path d="M880.8 917.6V981.7M880.8 1061.5V1085.2" stroke="#333333" stroke-width="3.2"/><path d="M865.8 917.6H895.8M865.8 1085.2H895.8" stroke="#333333" stroke-width="3"/><rect x="851.2" y="981.7" width="59" height="79.8" fill="#B2B2B2" stroke="#333333" stroke-width="3.3"/><path d="M851.2 1032.8H910.2" stroke="#333333" stroke-width="3.3"/></g>
<g fill="#6E6E6E" stroke="#111111" stroke-width="2.0"><circle cx="861.7" cy="910.6" r="7.75"/><circle cx="865.9" cy="918.1" r="7.75"/><circle cx="883.4" cy="921.4" r="7.75"/><circle cx="872.9" cy="950.5" r="7.75"/><circle cx="887.6" cy="954.3" r="7.75"/><circle cx="894.6" cy="973.7" r="7.75"/><circle cx="877.6" cy="981.7" r="7.75"/><circle cx="885.9" cy="988.7" r="7.75"/><circle cx="887.6" cy="994.2" r="7.75"/><circle cx="869.6" cy="1000.4" r="7.75"/><circle cx="871.6" cy="1009.6" r="7.75"/><circle cx="893.3" cy="1016.6" r="7.75"/><circle cx="869.6" cy="1025.3" r="7.75"/><circle cx="875.9" cy="1032.1" r="7.75"/><circle cx="885.9" cy="1032.1" r="7.75"/><circle cx="863.9" cy="1038.6" r="7.75"/><circle cx="894.6" cy="1049" r="7.75"/><circle cx="898.3" cy="1050.3" r="7.75"/><circle cx="863.4" cy="1054.5" r="7.75"/><circle cx="867.7" cy="1063.5" r="7.75"/><circle cx="885.9" cy="1067" r="7.75"/><circle cx="864.7" cy="1082.7" r="7.75"/><circle cx="874.6" cy="1080.9" r="7.75"/><circle cx="862.7" cy="1085.2" r="7.75"/><circle cx="887.6" cy="1096.4" r="7.75"/></g>
</g>
<g id="panel-d">
<text x="1056.8" y="706.5" font-size="67">d</text>
<text transform="translate(1102.9 926.7) rotate(-90)" font-size="53.4" text-anchor="middle">AUC [x10<tspan font-size="36" dy="-15">4</tspan><tspan dy="15">]</tspan></text>
<text x="1980.5" y="710.6" font-size="43.7" text-anchor="end">AUC based on OncoKB</text>
<text x="1980.5" y="752" font-size="43.7" text-anchor="end">(rank ≤ 1000)</text>
<path d="M1209.5 678.4V1169.4" stroke="#000" stroke-width="3.6" fill="none"/>
<path d="M1197.5 1167.7H1211.3" stroke="#000" stroke-width="3.4"/>
<text x="1189.7" y="1183.5" font-size="44" text-anchor="end">0</text>
<path d="M1197.5 1070.2H1211.3" stroke="#000" stroke-width="3.4"/>
<text x="1189.7" y="1086" font-size="44" text-anchor="end">3</text>
<path d="M1197.5 972.7H1211.3" stroke="#000" stroke-width="3.4"/>
<text x="1189.7" y="988.5" font-size="44" text-anchor="end">6</text>
<path d="M1197.5 875.2H1211.3" stroke="#000" stroke-width="3.4"/>
<text x="1189.7" y="891" font-size="44" text-anchor="end">9</text>
<path d="M1197.5 777.7H1211.3" stroke="#000" stroke-width="3.4"/>
<text x="1189.7" y="793.5" font-size="44" text-anchor="end">12</text>
<path d="M1197.5 680.2H1211.3" stroke="#000" stroke-width="3.4"/>
<text x="1189.7" y="696" font-size="44" text-anchor="end">15</text>
<path d="M1236.8 1197.2H1980.6" stroke="#000" stroke-width="3.6"/>
<path d="M1258.3 1197.2V1208.4" stroke="#000" stroke-width="3.6"/>
<path d="M1355.6 1197.2V1208.4" stroke="#000" stroke-width="3.6"/>
<path d="M1452.9 1197.2V1208.4" stroke="#000" stroke-width="3.6"/>
<path d="M1550.2 1197.2V1208.4" stroke="#000" stroke-width="3.6"/>
<path d="M1647.5 1197.2V1208.4" stroke="#000" stroke-width="3.6"/>
<path d="M1744.8 1197.2V1208.4" stroke="#000" stroke-width="3.6"/>
<path d="M1842.1 1197.2V1208.4" stroke="#000" stroke-width="3.6"/>
<path d="M1939.4 1197.2V1208.4" stroke="#000" stroke-width="3.6"/>
<g><path d="M1258.3 730.4V849.1M1258.3 929.3V979.7" stroke="#805410" stroke-width="3.2"/><path d="M1243.3 730.4H1273.3M1243.3 979.7H1273.3" stroke="#805410" stroke-width="3"/><rect x="1228.8" y="849.1" width="59" height="80.3" fill="#FDC87F" stroke="#805410" stroke-width="3.3"/><path d="M1228.8 886H1287.8" stroke="#805410" stroke-width="3.3"/></g>
<g fill="#F9A00E" stroke="#200c00" stroke-width="2.0"><circle cx="1273.6" cy="712.4" r="7.75"/><circle cx="1246.2" cy="730.4" r="7.75"/><circle cx="1240.2" cy="771.5" r="7.75"/><circle cx="1275.6" cy="810.2" r="7.75"/><circle cx="1263.9" cy="822.1" r="7.75"/><circle cx="1246.2" cy="827.9" r="7.75"/><circle cx="1261.9" cy="848.3" r="7.75"/><circle cx="1246.2" cy="857" r="7.75"/><circle cx="1265.6" cy="857" r="7.75"/><circle cx="1248.7" cy="872" r="7.75"/><circle cx="1248.2" cy="877" r="7.75"/><circle cx="1260.1" cy="883.2" r="7.75"/><circle cx="1271.8" cy="885.7" r="7.75"/><circle cx="1259.4" cy="889.9" r="7.75"/><circle cx="1273.1" cy="891.9" r="7.75"/><circle cx="1275.6" cy="889.4" r="7.75"/><circle cx="1238.2" cy="894.4" r="7.75"/><circle cx="1246.2" cy="915.6" r="7.75"/><circle cx="1244.4" cy="931.3" r="7.75"/><circle cx="1244.4" cy="944.8" r="7.75"/><circle cx="1256.9" cy="944.8" r="7.75"/><circle cx="1269.8" cy="949.8" r="7.75"/><circle cx="1268.1" cy="956.3" r="7.75"/><circle cx="1251.9" cy="958.8" r="7.75"/><circle cx="1243.9" cy="979.7" r="7.75"/><circle cx="1258.1" cy="1003.6" r="7.75"/></g>
<g><path d="M1355.6 858.8V913.1M1355.6 994.7V1020.4" stroke="#0A0A4A" stroke-width="3.2"/><path d="M1340.6 858.8H1370.6M1340.6 1020.4H1370.6" stroke="#0A0A4A" stroke-width="3"/><rect x="1326.1" y="913.1" width="59" height="81.5" fill="#7B7DC2" stroke="#0A0A4A" stroke-width="3.3"/><path d="M1326.1 954.8H1385.1" stroke="#0A0A4A" stroke-width="3.3"/></g>
<g fill="#0A0A8A" stroke="#02021e" stroke-width="2.0"><circle cx="1351.6" cy="843.3" r="7.75"/><circle cx="1355.4" cy="859" r="7.75"/><circle cx="1344.7" cy="865" r="7.75"/><circle cx="1337.9" cy="899.9" r="7.75"/><circle cx="1371.1" cy="899.9" r="7.75"/><circle cx="1358.6" cy="912.4" r="7.75"/><circle cx="1363.4" cy="923.1" r="7.75"/><circle cx="1367.8" cy="931.3" r="7.75"/><circle cx="1362.9" cy="940.6" r="7.75"/><circle cx="1373.6" cy="945.6" r="7.75"/><circle cx="1339.9" cy="949.8" r="7.75"/><circle cx="1359.1" cy="954.3" r="7.75"/><circle cx="1373.6" cy="951.8" r="7.75"/><circle cx="1341.7" cy="964.3" r="7.75"/><circle cx="1364.1" cy="968" r="7.75"/><circle cx="1345.9" cy="974.2" r="7.75"/><circle cx="1369.6" cy="971.2" r="7.75"/><circle cx="1371.6" cy="989.2" r="7.75"/><circle cx="1365.3" cy="991.7" r="7.75"/><circle cx="1357.9" cy="997.2" r="7.75"/><circle cx="1339.2" cy="999.7" r="7.75"/><circle cx="1349.1" cy="1001.7" r="7.75"/><circle cx="1351.6" cy="1018.6" r="7.75"/><circle cx="1363.4" cy="1021.1" r="7.75"/><circle cx="1361.6" cy="1044.5" r="7.75"/></g>
<g><path d="M1452.9 779.2V907.4M1452.9 994.2V1009.1" stroke="#520306" stroke-width="3.2"/><path d="M1437.9 779.2H1467.9M1437.9 1009.1H1467.9" stroke="#520306" stroke-width="3"/><rect x="1423.4" y="907.4" width="59" height="86.8" fill="#D8787B" stroke="#520306" stroke-width="3.3"/><path d="M1423.4 952.3H1482.4" stroke="#520306" stroke-width="3.3"/></g>
<g fill="#B5060E" stroke="#200000" stroke-width="2.0"><circle cx="1433.2" cy="773.5" r="7.75"/><circle cx="1443.7" cy="779.7" r="7.75"/><circle cx="1437.4" cy="880.7" r="7.75"/><circle cx="1447.4" cy="886.5" r="7.75"/><circle cx="1435.2" cy="901.9" r="7.75"/><circle cx="1463.1" cy="906.9" r="7.75"/><circle cx="1466.8" cy="905.7" r="7.75"/><circle cx="1454.9" cy="923.1" r="7.75"/><circle cx="1445.6" cy="934.8" r="7.75"/><circle cx="1462.4" cy="936.8" r="7.75"/><circle cx="1436.9" cy="940.6" r="7.75"/><circle cx="1449.9" cy="943.1" r="7.75"/><circle cx="1458.1" cy="951.8" r="7.75"/><circle cx="1435.7" cy="956.3" r="7.75"/><circle cx="1453.1" cy="959.8" r="7.75"/><circle cx="1446.4" cy="969.7" r="7.75"/><circle cx="1464.3" cy="975.5" r="7.75"/><circle cx="1470.6" cy="984.7" r="7.75"/><circle cx="1456.9" cy="994.7" r="7.75"/><circle cx="1470.6" cy="997.2" r="7.75"/><circle cx="1439.4" cy="1004.6" r="7.75"/><circle cx="1439.4" cy="1012.9" r="7.75"/><circle cx="1455.6" cy="1009.1" r="7.75"/><circle cx="1464.3" cy="1009.6" r="7.75"/><circle cx="1439.4" cy="1046" r="7.75"/></g>
<g><path d="M1550.2 859V928.8M1550.2 1013.4V1052" stroke="#1C4656" stroke-width="3.2"/><path d="M1535.2 859H1565.2M1535.2 1052H1565.2" stroke="#1C4656" stroke-width="3"/><rect x="1520.7" y="928.8" width="59" height="84.5" fill="#9CC5D5" stroke="#1C4656" stroke-width="3.3"/><path d="M1520.7 970.5H1579.7" stroke="#1C4656" stroke-width="3.3"/></g>
<g fill="#4192B0" stroke="#061820" stroke-width="2.0"><circle cx="1530.9" cy="812.2" r="7.75"/><circle cx="1562.1" cy="859" r="7.75"/><circle cx="1550.4" cy="870.7" r="7.75"/><circle cx="1562.1" cy="878.7" r="7.75"/><circle cx="1566.6" cy="919.4" r="7.75"/><circle cx="1568.6" cy="923.1" r="7.75"/><circle cx="1540.9" cy="928.8" r="7.75"/><circle cx="1542.9" cy="940.6" r="7.75"/><circle cx="1560.3" cy="950.5" r="7.75"/><circle cx="1544.1" cy="960.5" r="7.75"/><circle cx="1564.6" cy="960.5" r="7.75"/><circle cx="1554.1" cy="964.3" r="7.75"/><circle cx="1545.4" cy="970.5" r="7.75"/><circle cx="1550.4" cy="976.7" r="7.75"/><circle cx="1559.6" cy="976.2" r="7.75"/><circle cx="1562.8" cy="999.2" r="7.75"/><circle cx="1559.6" cy="1001.7" r="7.75"/><circle cx="1551.1" cy="1007.1" r="7.75"/><circle cx="1546.6" cy="1017.1" r="7.75"/><circle cx="1564.6" cy="1017.1" r="7.75"/><circle cx="1558.4" cy="1036.6" r="7.75"/><circle cx="1532.9" cy="1044.5" r="7.75"/><circle cx="1541.6" cy="1048.5" r="7.75"/><circle cx="1531.7" cy="1051.5" r="7.75"/><circle cx="1540.9" cy="1054" r="7.75"/></g>
<g><path d="M1647.5 815.9V928.6M1647.5 975V1018.6" stroke="#4A2208" stroke-width="3.2"/><path d="M1632.5 815.9H1662.5M1632.5 1018.6H1662.5" stroke="#4A2208" stroke-width="3"/><rect x="1618" y="928.6" width="59" height="46.4" fill="#D7A785" stroke="#4A2208" stroke-width="3.3"/><path d="M1618 960.5H1677" stroke="#4A2208" stroke-width="3.3"/></g>
<g fill="#AC5412" stroke="#200c00" stroke-width="2.0"><circle cx="1632.2" cy="794.2" r="7.75"/><circle cx="1643.9" cy="815.9" r="7.75"/><circle cx="1642.1" cy="845.8" r="7.75"/><circle cx="1642.1" cy="889.9" r="7.75"/><circle cx="1639.6" cy="893.9" r="7.75"/><circle cx="1643.9" cy="913.9" r="7.75"/><circle cx="1658.3" cy="928.8" r="7.75"/><circle cx="1648.4" cy="931.3" r="7.75"/><circle cx="1663.3" cy="946.3" r="7.75"/><circle cx="1632.2" cy="951.8" r="7.75"/><circle cx="1626.4" cy="956.3" r="7.75"/><circle cx="1657.1" cy="957.3" r="7.75"/><circle cx="1643.4" cy="960.5" r="7.75"/><circle cx="1635.9" cy="965.5" r="7.75"/><circle cx="1657.1" cy="966.7" r="7.75"/><circle cx="1664.6" cy="968" r="7.75"/><circle cx="1649.6" cy="975.5" r="7.75"/><circle cx="1657.1" cy="978.7" r="7.75"/><circle cx="1635.9" cy="989.7" r="7.75"/><circle cx="1643.9" cy="999.7" r="7.75"/><circle cx="1652.1" cy="1008.6" r="7.75"/><circle cx="1659.6" cy="1017.9" r="7.75"/><circle cx="1665.3" cy="1019.1" r="7.75"/><circle cx="1646.4" cy="1032.8" r="7.75"/></g>
<g><path d="M1744.8 903.7V969.7M1744.8 1026.6V1047.8" stroke="#58500E" stroke-width="3.2"/><path d="M1729.8 903.7H1759.8M1729.8 1047.8H1759.8" stroke="#58500E" stroke-width="3"/><rect x="1715.3" y="969.7" width="59" height="56.9" fill="#DCD083" stroke="#58500E" stroke-width="3.3"/><path d="M1715.3 970.7H1774.3" stroke="#58500E" stroke-width="3.3"/></g>
<g fill="#BBA016" stroke="#201a00" stroke-width="2.0"><circle cx="1747.6" cy="887.7" r="7.75"/><circle cx="1761.3" cy="903.9" r="7.75"/><circle cx="1739.4" cy="915.6" r="7.75"/><circle cx="1739.4" cy="941.3" r="7.75"/><circle cx="1759.8" cy="957.3" r="7.75"/><circle cx="1755.6" cy="960.5" r="7.75"/><circle cx="1750.1" cy="973" r="7.75"/><circle cx="1725.7" cy="976.2" r="7.75"/><circle cx="1740.1" cy="979.2" r="7.75"/><circle cx="1760.6" cy="970.5" r="7.75"/><circle cx="1764.3" cy="984.7" r="7.75"/><circle cx="1746.9" cy="987.9" r="7.75"/><circle cx="1756.8" cy="991.2" r="7.75"/><circle cx="1725.7" cy="991.7" r="7.75"/><circle cx="1733.9" cy="1006.6" r="7.75"/><circle cx="1737.6" cy="1009.6" r="7.75"/><circle cx="1729.4" cy="1016.1" r="7.75"/><circle cx="1751.9" cy="1026.1" r="7.75"/><circle cx="1725.7" cy="1032.3" r="7.75"/><circle cx="1746.9" cy="1039.6" r="7.75"/><circle cx="1756.8" cy="1046.5" r="7.75"/><circle cx="1725.7" cy="1047.8" r="7.75"/><circle cx="1747.6" cy="1054" r="7.75"/></g>
<g><path d="M1842.1 905.7V958M1842.1 1045.3V1081.4" stroke="#083E08" stroke-width="3.2"/><path d="M1827.1 905.7H1857.1M1827.1 1081.4H1857.1" stroke="#083E08" stroke-width="3"/><rect x="1812.6" y="958" width="59" height="87.3" fill="#80BC80" stroke="#083E08" stroke-width="3.3"/><path d="M1812.6 1017.1H1871.6" stroke="#083E08" stroke-width="3.3"/></g>
<g fill="#0F760F" stroke="#021802" stroke-width="2.0"><circle cx="1835.1" cy="904.9" r="7.75"/><circle cx="1850.9" cy="909.4" r="7.75"/><circle cx="1835.1" cy="915.6" r="7.75"/><circle cx="1854.3" cy="926.9" r="7.75"/><circle cx="1850.9" cy="942.6" r="7.75"/><circle cx="1825.7" cy="949.8" r="7.75"/><circle cx="1844.6" cy="958" r="7.75"/><circle cx="1855.1" cy="964.3" r="7.75"/><circle cx="1858.8" cy="966.7" r="7.75"/><circle cx="1831.4" cy="989.2" r="7.75"/><circle cx="1838.9" cy="989.2" r="7.75"/><circle cx="1830.9" cy="1006.6" r="7.75"/><circle cx="1847.6" cy="1009.1" r="7.75"/><circle cx="1855.1" cy="1016.6" r="7.75"/><circle cx="1835.1" cy="1021.1" r="7.75"/><circle cx="1846.9" cy="1030.3" r="7.75"/><circle cx="1860.8" cy="1036.1" r="7.75"/><circle cx="1853.8" cy="1046.5" r="7.75"/><circle cx="1823.4" cy="1046" r="7.75"/><circle cx="1839.4" cy="1054" r="7.75"/><circle cx="1850.1" cy="1059" r="7.75"/><circle cx="1823.4" cy="1062.7" r="7.75"/><circle cx="1860.8" cy="1065.2" r="7.75"/><circle cx="1850.1" cy="1081.4" r="7.75"/><circle cx="1855.1" cy="1088.9" r="7.75"/><circle cx="1856.8" cy="1081.9" r="7.75"/></g>
<g><path d="M1939.4 919.4V959.8M1939.4 1058.5V1076.5" stroke="#333333" stroke-width="3.2"/><path d="M1924.4 919.4H1954.4M1924.4 1076.5H1954.4" stroke="#333333" stroke-width="3"/><rect x="1909.9" y="959.8" width="59" height="98.7" fill="#B2B2B2" stroke="#333333" stroke-width="3.3"/><path d="M1909.9 1017.1H1968.9" stroke="#333333" stroke-width="3.3"/></g>
<g fill="#6E6E6E" stroke="#111111" stroke-width="2.0"><circle cx="1943.6" cy="918.9" r="7.75"/><circle cx="1921.2" cy="928.8" r="7.75"/><circle cx="1924.9" cy="929.3" r="7.75"/><circle cx="1946.6" cy="952.3" r="7.75"/><circle cx="1930.6" cy="955.5" r="7.75"/><circle cx="1932.4" cy="960.5" r="7.75"/><circle cx="1954.8" cy="979.2" r="7.75"/><circle cx="1946.1" cy="989.2" r="7.75"/><circle cx="1952.3" cy="995.4" r="7.75"/><circle cx="1937.4" cy="997.9" r="7.75"/><circle cx="1926.2" cy="1002.9" r="7.75"/><circle cx="1928.6" cy="1012.1" r="7.75"/><circle cx="1944.9" cy="1017.9" r="7.75"/><circle cx="1933.6" cy="1045.3" r="7.75"/><circle cx="1946.1" cy="1041.5" r="7.75"/><circle cx="1956.1" cy="1050.3" r="7.75"/><circle cx="1921.2" cy="1051" r="7.75"/><circle cx="1927.4" cy="1054" r="7.75"/><circle cx="1943.6" cy="1064" r="7.75"/><circle cx="1924.9" cy="1070.2" r="7.75"/><circle cx="1933.6" cy="1077.7" r="7.75"/><circle cx="1944.9" cy="1074" r="7.75"/><circle cx="1952.3" cy="1083.4" r="7.75"/><circle cx="1922.4" cy="1074" r="7.75"/></g>
</g>
<g id="panel-e">
<text x="4.7" y="1336" font-size="72">e</text>
<text transform="translate(43.6 1566.3) rotate(-90)" font-size="53.4" text-anchor="middle">precision [%]</text>
<text x="922.3" y="1348.8" font-size="43.7" text-anchor="end">Precision based on CGC</text>
<text x="922.3" y="1390.2" font-size="43.7" text-anchor="end">(recall = 5%)</text>
<path d="M150.5 1316.1V1808.2" stroke="#000" stroke-width="3.6" fill="none"/>
<path d="M138.5 1806.6H152.3" stroke="#000" stroke-width="3.4"/>
<text x="130.3" y="1822.4" font-size="44" text-anchor="end">0</text>
<path d="M138.5 1684.4H152.3" stroke="#000" stroke-width="3.4"/>
<text x="130.3" y="1700.2" font-size="44" text-anchor="end">20</text>
<path d="M138.5 1562.2H152.3" stroke="#000" stroke-width="3.4"/>
<text x="130.3" y="1578" font-size="44" text-anchor="end">40</text>
<path d="M138.5 1440.1H152.3" stroke="#000" stroke-width="3.4"/>
<text x="130.3" y="1455.9" font-size="44" text-anchor="end">60</text>
<path d="M138.5 1317.9H152.3" stroke="#000" stroke-width="3.4"/>
<text x="130.3" y="1333.7" font-size="44" text-anchor="end">80</text>
<path d="M177.5 1835.9H921.6" stroke="#000" stroke-width="3.6"/>
<path d="M198.6 1835.9V1847.5" stroke="#000" stroke-width="3.6"/>
<path d="M296.1 1835.9V1847.5" stroke="#000" stroke-width="3.6"/>
<path d="M393.5 1835.9V1847.5" stroke="#000" stroke-width="3.6"/>
<path d="M491 1835.9V1847.5" stroke="#000" stroke-width="3.6"/>
<path d="M588.4 1835.9V1847.5" stroke="#000" stroke-width="3.6"/>
<path d="M685.9 1835.9V1847.5" stroke="#000" stroke-width="3.6"/>
<path d="M783.3 1835.9V1847.5" stroke="#000" stroke-width="3.6"/>
<path d="M880.8 1835.9V1847.5" stroke="#000" stroke-width="3.6"/>
<g><path d="M198.6 1432.7V1561.9M198.6 1723.9V1738.9" stroke="#805410" stroke-width="3.2"/><path d="M183.6 1432.7H213.6M183.6 1738.9H213.6" stroke="#805410" stroke-width="3"/><rect x="169.1" y="1561.9" width="59" height="162.1" fill="#FDC87F" stroke="#805410" stroke-width="3.3"/><path d="M169.1 1631.7H228.1" stroke="#805410" stroke-width="3.3"/></g>
<g fill="#F9A00E" stroke="#200c00" stroke-width="2.0"><circle cx="211.9" cy="1374.3" r="7.75"/><circle cx="181.2" cy="1432.7" r="7.75"/><circle cx="181.9" cy="1432.7" r="7.75"/><circle cx="206.1" cy="1491.5" r="7.75"/><circle cx="192.4" cy="1529.9" r="7.75"/><circle cx="189.9" cy="1555.6" r="7.75"/><circle cx="204.1" cy="1561.9" r="7.75"/><circle cx="214.1" cy="1579.3" r="7.75"/><circle cx="204.4" cy="1603" r="7.75"/><circle cx="196.9" cy="1611.7" r="7.75"/><circle cx="190.4" cy="1618" r="7.75"/><circle cx="208.1" cy="1614.2" r="7.75"/><circle cx="192.4" cy="1631.7" r="7.75"/><circle cx="211.9" cy="1632.2" r="7.75"/><circle cx="206.1" cy="1647.9" r="7.75"/><circle cx="204.1" cy="1665.3" r="7.75"/><circle cx="216.1" cy="1672.8" r="7.75"/><circle cx="192.4" cy="1677" r="7.75"/><circle cx="214.1" cy="1684.8" r="7.75"/><circle cx="181.9" cy="1723.2" r="7.75"/><circle cx="196.1" cy="1719.4" r="7.75"/><circle cx="206.1" cy="1723.9" r="7.75"/><circle cx="214.8" cy="1728.9" r="7.75"/><circle cx="184.4" cy="1733.9" r="7.75"/><circle cx="192.4" cy="1738.9" r="7.75"/><circle cx="207.9" cy="1751.4" r="7.75"/><circle cx="199.9" cy="1727.7" r="7.75"/></g>
<g><path d="M296.1 1546.4V1701.5M296.1 1751.4V1763.8" stroke="#0A0A4A" stroke-width="3.2"/><path d="M281.1 1546.4H311.1M281.1 1763.8H311.1" stroke="#0A0A4A" stroke-width="3"/><rect x="266.6" y="1701.5" width="59" height="49.9" fill="#7B7DC2" stroke="#0A0A4A" stroke-width="3.3"/><path d="M266.6 1730.2H325.6" stroke="#0A0A4A" stroke-width="3.3"/></g>
<g fill="#0A0A8A" stroke="#02021e" stroke-width="2.0"><circle cx="282.2" cy="1495.8" r="7.75"/><circle cx="277.7" cy="1546.4" r="7.75"/><circle cx="280.2" cy="1586.8" r="7.75"/><circle cx="287.2" cy="1624.2" r="7.75"/><circle cx="280.2" cy="1649.6" r="7.75"/><circle cx="297.6" cy="1661.6" r="7.75"/><circle cx="293.9" cy="1702" r="7.75"/><circle cx="306.6" cy="1704" r="7.75"/><circle cx="278.4" cy="1712.2" r="7.75"/><circle cx="310.8" cy="1716.4" r="7.75"/><circle cx="284.7" cy="1716.4" r="7.75"/><circle cx="285.9" cy="1728.9" r="7.75"/><circle cx="299.1" cy="1732.7" r="7.75"/><circle cx="311.6" cy="1728.9" r="7.75"/><circle cx="307.1" cy="1741.4" r="7.75"/><circle cx="278.4" cy="1751.4" r="7.75"/><circle cx="306.6" cy="1751.4" r="7.75"/><circle cx="290.9" cy="1756.8" r="7.75"/><circle cx="287.2" cy="1761.3" r="7.75"/><circle cx="299.6" cy="1762.6" r="7.75"/><circle cx="309.6" cy="1771.3" r="7.75"/></g>
<g><path d="M393.5 1499.5V1694.5M393.5 1750.1V1766.3" stroke="#520306" stroke-width="3.2"/><path d="M378.5 1499.5H408.5M378.5 1766.3H408.5" stroke="#520306" stroke-width="3"/><rect x="364" y="1694.5" width="59" height="55.6" fill="#D8787B" stroke="#520306" stroke-width="3.3"/><path d="M364 1729.4H423" stroke="#520306" stroke-width="3.3"/></g>
<g fill="#B5060E" stroke="#200000" stroke-width="2.0"><circle cx="398.6" cy="1462.1" r="7.75"/><circle cx="396.9" cy="1499.5" r="7.75"/><circle cx="396.9" cy="1523.2" r="7.75"/><circle cx="389.4" cy="1649.1" r="7.75"/><circle cx="395.6" cy="1663.6" r="7.75"/><circle cx="373.7" cy="1686.5" r="7.75"/><circle cx="385.4" cy="1694.5" r="7.75"/><circle cx="381.7" cy="1707.7" r="7.75"/><circle cx="383.6" cy="1715.2" r="7.75"/><circle cx="404.8" cy="1716.4" r="7.75"/><circle cx="408.6" cy="1717.7" r="7.75"/><circle cx="373.7" cy="1728.9" r="7.75"/><circle cx="387.4" cy="1731.4" r="7.75"/><circle cx="398.6" cy="1733.9" r="7.75"/><circle cx="393.6" cy="1736.4" r="7.75"/><circle cx="406.1" cy="1741.9" r="7.75"/><circle cx="386.1" cy="1751.4" r="7.75"/><circle cx="411.1" cy="1752.6" r="7.75"/><circle cx="407.8" cy="1758.8" r="7.75"/><circle cx="377.4" cy="1759.3" r="7.75"/><circle cx="378.7" cy="1766.8" r="7.75"/><circle cx="392.9" cy="1769.3" r="7.75"/><circle cx="406.8" cy="1771.3" r="7.75"/></g>
<g><path d="M491 1522.7V1689M491 1758.8V1768.8" stroke="#1C4656" stroke-width="3.2"/><path d="M476 1522.7H506M476 1768.8H506" stroke="#1C4656" stroke-width="3"/><rect x="461.5" y="1689" width="59" height="69.8" fill="#9CC5D5" stroke="#1C4656" stroke-width="3.3"/><path d="M461.5 1732.7H520.5" stroke="#1C4656" stroke-width="3.3"/></g>
<g fill="#4192B0" stroke="#061820" stroke-width="2.0"><circle cx="470.9" cy="1406" r="7.75"/><circle cx="478.9" cy="1522.7" r="7.75"/><circle cx="474.7" cy="1564.3" r="7.75"/><circle cx="482.1" cy="1563.8" r="7.75"/><circle cx="480.4" cy="1611" r="7.75"/><circle cx="498.3" cy="1672.8" r="7.75"/><circle cx="488.4" cy="1689" r="7.75"/><circle cx="474.7" cy="1696.5" r="7.75"/><circle cx="497.1" cy="1692.8" r="7.75"/><circle cx="480.9" cy="1692.8" r="7.75"/><circle cx="487.1" cy="1704" r="7.75"/><circle cx="488.4" cy="1722.7" r="7.75"/><circle cx="473.4" cy="1733.9" r="7.75"/><circle cx="470.2" cy="1737.6" r="7.75"/><circle cx="495.9" cy="1733.9" r="7.75"/><circle cx="504.6" cy="1737.6" r="7.75"/><circle cx="489.6" cy="1741.9" r="7.75"/><circle cx="499.6" cy="1748.9" r="7.75"/><circle cx="494.6" cy="1752.6" r="7.75"/><circle cx="502.1" cy="1757.6" r="7.75"/><circle cx="475.9" cy="1767.6" r="7.75"/><circle cx="487.1" cy="1767.6" r="7.75"/><circle cx="469.7" cy="1770.1" r="7.75"/><circle cx="503.8" cy="1771.3" r="7.75"/><circle cx="470.9" cy="1777.5" r="7.75"/></g>
<g><path d="M588.4 1616.7V1713.5M588.4 1750.1V1768.8" stroke="#4A2208" stroke-width="3.2"/><path d="M573.4 1616.7H603.4M573.4 1768.8H603.4" stroke="#4A2208" stroke-width="3"/><rect x="558.9" y="1713.5" width="59" height="36.7" fill="#D7A785" stroke="#4A2208" stroke-width="3.3"/><path d="M558.9 1730.2H617.9" stroke="#4A2208" stroke-width="3.3"/></g>
<g fill="#AC5412" stroke="#200c00" stroke-width="2.0"><circle cx="599.1" cy="1569.3" r="7.75"/><circle cx="586.1" cy="1616.7" r="7.75"/><circle cx="575.7" cy="1643.6" r="7.75"/><circle cx="593.6" cy="1653.6" r="7.75"/><circle cx="574.2" cy="1681" r="7.75"/><circle cx="585.6" cy="1696.5" r="7.75"/><circle cx="584.9" cy="1714" r="7.75"/><circle cx="589.4" cy="1717.7" r="7.75"/><circle cx="583.6" cy="1723.9" r="7.75"/><circle cx="601.1" cy="1723.9" r="7.75"/><circle cx="605.3" cy="1730.2" r="7.75"/><circle cx="597.8" cy="1731.4" r="7.75"/><circle cx="606.1" cy="1740.1" r="7.75"/><circle cx="569.9" cy="1738.9" r="7.75"/><circle cx="598.1" cy="1737.6" r="7.75"/><circle cx="591.1" cy="1746.4" r="7.75"/><circle cx="569.4" cy="1750.1" r="7.75"/><circle cx="582.4" cy="1756.3" r="7.75"/><circle cx="599.3" cy="1758.8" r="7.75"/><circle cx="567.4" cy="1763.8" r="7.75"/><circle cx="574.9" cy="1766.8" r="7.75"/><circle cx="586.1" cy="1770.1" r="7.75"/></g>
<g><path d="M685.9 1714.4V1735.9M685.9 1761.3V1768.8" stroke="#58500E" stroke-width="3.2"/><path d="M670.9 1714.4H700.9M670.9 1768.8H700.9" stroke="#58500E" stroke-width="3"/><rect x="656.4" y="1735.9" width="59" height="25.4" fill="#DCD083" stroke="#58500E" stroke-width="3.3"/><path d="M656.4 1747.6H715.4" stroke="#58500E" stroke-width="3.3"/></g>
<g fill="#BBA016" stroke="#201a00" stroke-width="2.0"><circle cx="682.9" cy="1681" r="7.75"/><circle cx="667.7" cy="1711.5" r="7.75"/><circle cx="665.4" cy="1725.2" r="7.75"/><circle cx="702.1" cy="1731.4" r="7.75"/><circle cx="687.1" cy="1736.4" r="7.75"/><circle cx="672.2" cy="1738.9" r="7.75"/><circle cx="694.6" cy="1738.9" r="7.75"/><circle cx="702.1" cy="1741.4" r="7.75"/><circle cx="662.2" cy="1745.1" r="7.75"/><circle cx="673.4" cy="1746.4" r="7.75"/><circle cx="694.6" cy="1750.9" r="7.75"/><circle cx="684.6" cy="1748.9" r="7.75"/><circle cx="667.2" cy="1756.3" r="7.75"/><circle cx="699.6" cy="1756.3" r="7.75"/><circle cx="674.6" cy="1762.6" r="7.75"/><circle cx="692.6" cy="1766.8" r="7.75"/><circle cx="685.9" cy="1766.3" r="7.75"/><circle cx="667.2" cy="1774.5" r="7.75"/><circle cx="673.4" cy="1768.8" r="7.75"/></g>
<g><path d="M783.3 1675.3V1731.4M783.3 1775V1783.8" stroke="#083E08" stroke-width="3.2"/><path d="M768.3 1675.3H798.3M768.3 1783.8H798.3" stroke="#083E08" stroke-width="3"/><rect x="753.8" y="1731.4" width="59" height="43.6" fill="#80BC80" stroke="#083E08" stroke-width="3.3"/><path d="M753.8 1755.1H812.8" stroke="#083E08" stroke-width="3.3"/></g>
<g fill="#0F760F" stroke="#021802" stroke-width="2.0"><circle cx="770.7" cy="1659.6" r="7.75"/><circle cx="774.4" cy="1674.6" r="7.75"/><circle cx="791.9" cy="1712" r="7.75"/><circle cx="779.9" cy="1715.2" r="7.75"/><circle cx="771.2" cy="1721.4" r="7.75"/><circle cx="784.4" cy="1727.7" r="7.75"/><circle cx="768.7" cy="1731.9" r="7.75"/><circle cx="765.4" cy="1741.9" r="7.75"/><circle cx="780.4" cy="1743.4" r="7.75"/><circle cx="797.3" cy="1743.9" r="7.75"/><circle cx="764.4" cy="1755.1" r="7.75"/><circle cx="793.6" cy="1752.6" r="7.75"/><circle cx="774.9" cy="1758.8" r="7.75"/><circle cx="786.1" cy="1766.8" r="7.75"/><circle cx="797.3" cy="1766.3" r="7.75"/><circle cx="770.4" cy="1773.8" r="7.75"/><circle cx="792.3" cy="1776.3" r="7.75"/><circle cx="764.9" cy="1780" r="7.75"/><circle cx="783.6" cy="1777.5" r="7.75"/><circle cx="766.2" cy="1783.8" r="7.75"/></g>
<g><path d="M880.8 1639.9V1717.7M880.8 1776.3V1783.8" stroke="#333333" stroke-width="3.2"/><path d="M865.8 1639.9H895.8M865.8 1783.8H895.8" stroke="#333333" stroke-width="3"/><rect x="851.2" y="1717.7" width="59" height="58.6" fill="#B2B2B2" stroke="#333333" stroke-width="3.3"/><path d="M851.2 1765.1H910.2" stroke="#333333" stroke-width="3.3"/></g>
<g fill="#6E6E6E" stroke="#111111" stroke-width="2.0"><circle cx="881.6" cy="1627.9" r="7.75"/><circle cx="895.1" cy="1639.9" r="7.75"/><circle cx="887.1" cy="1647.9" r="7.75"/><circle cx="887.1" cy="1704" r="7.75"/><circle cx="866.4" cy="1712.7" r="7.75"/><circle cx="860.9" cy="1717.7" r="7.75"/><circle cx="862.2" cy="1723.9" r="7.75"/><circle cx="871.6" cy="1721.4" r="7.75"/><circle cx="875.9" cy="1728.9" r="7.75"/><circle cx="881.6" cy="1751.4" r="7.75"/><circle cx="883.9" cy="1760.1" r="7.75"/><circle cx="859.7" cy="1765.1" r="7.75"/><circle cx="867.2" cy="1766.3" r="7.75"/><circle cx="888.3" cy="1766.3" r="7.75"/><circle cx="895.8" cy="1773.8" r="7.75"/><circle cx="873.4" cy="1778.8" r="7.75"/><circle cx="879.6" cy="1778.3" r="7.75"/><circle cx="890.8" cy="1782.5" r="7.75"/><circle cx="869.6" cy="1783.8" r="7.75"/><circle cx="897.1" cy="1778.8" r="7.75"/></g>
</g>
<g id="panel-f">
<text x="1056.6" y="1335" font-size="67">f</text>
<text transform="translate(1102.8 1568.4) rotate(-90)" font-size="53.4" text-anchor="middle">precision [%]</text>
<text x="1980.5" y="1351" font-size="43.7" text-anchor="end">Precision based OncoKB</text>
<text x="1980.5" y="1392.4" font-size="43.7" text-anchor="end">(recall = 5%)</text>
<path d="M1209.5 1319V1809" stroke="#000" stroke-width="3.6" fill="none"/>
<path d="M1197.5 1807.3H1211.3" stroke="#000" stroke-width="3.4"/>
<text x="1189.7" y="1823.1" font-size="44" text-anchor="end">0</text>
<path d="M1197.5 1685.7H1211.3" stroke="#000" stroke-width="3.4"/>
<text x="1189.7" y="1701.5" font-size="44" text-anchor="end">20</text>
<path d="M1197.5 1564.1H1211.3" stroke="#000" stroke-width="3.4"/>
<text x="1189.7" y="1579.9" font-size="44" text-anchor="end">40</text>
<path d="M1197.5 1442.4H1211.3" stroke="#000" stroke-width="3.4"/>
<text x="1189.7" y="1458.2" font-size="44" text-anchor="end">60</text>
<path d="M1197.5 1320.8H1211.3" stroke="#000" stroke-width="3.4"/>
<text x="1189.7" y="1336.6" font-size="44" text-anchor="end">80</text>
<path d="M1236.8 1836.4H1980.6" stroke="#000" stroke-width="3.6"/>
<path d="M1258.3 1836.4V1848" stroke="#000" stroke-width="3.6"/>
<path d="M1355.6 1836.4V1848" stroke="#000" stroke-width="3.6"/>
<path d="M1452.9 1836.4V1848" stroke="#000" stroke-width="3.6"/>
<path d="M1550.2 1836.4V1848" stroke="#000" stroke-width="3.6"/>
<path d="M1647.5 1836.4V1848" stroke="#000" stroke-width="3.6"/>
<path d="M1744.8 1836.4V1848" stroke="#000" stroke-width="3.6"/>
<path d="M1842.1 1836.4V1848" stroke="#000" stroke-width="3.6"/>
<path d="M1939.4 1836.4V1848" stroke="#000" stroke-width="3.6"/>
<g><path d="M1258.3 1427.7V1592.3M1258.3 1710.2V1740.1" stroke="#805410" stroke-width="3.2"/><path d="M1243.3 1427.7H1273.3M1243.3 1740.1H1273.3" stroke="#805410" stroke-width="3"/><rect x="1228.8" y="1592.3" width="59" height="117.9" fill="#FDC87F" stroke="#805410" stroke-width="3.3"/><path d="M1228.8 1664.6H1287.8" stroke="#805410" stroke-width="3.3"/></g>
<g fill="#F9A00E" stroke="#200c00" stroke-width="2.0"><circle cx="1271.8" cy="1336.2" r="7.75"/><circle cx="1251.9" cy="1427.7" r="7.75"/><circle cx="1242.4" cy="1516.5" r="7.75"/><circle cx="1265.6" cy="1561.9" r="7.75"/><circle cx="1240.7" cy="1584.8" r="7.75"/><circle cx="1250.1" cy="1593" r="7.75"/><circle cx="1273.8" cy="1588.8" r="7.75"/><circle cx="1264.4" cy="1622.2" r="7.75"/><circle cx="1268.1" cy="1634.2" r="7.75"/><circle cx="1264.4" cy="1649.6" r="7.75"/><circle cx="1250.6" cy="1657.1" r="7.75"/><circle cx="1258.1" cy="1661.6" r="7.75"/><circle cx="1273.8" cy="1664.6" r="7.75"/><circle cx="1271.8" cy="1672.1" r="7.75"/><circle cx="1251.9" cy="1676" r="7.75"/><circle cx="1266.9" cy="1681.5" r="7.75"/><circle cx="1260.6" cy="1684.5" r="7.75"/><circle cx="1276.3" cy="1686.5" r="7.75"/><circle cx="1251.9" cy="1692.8" r="7.75"/><circle cx="1273.8" cy="1709" r="7.75"/><circle cx="1265.6" cy="1715.2" r="7.75"/><circle cx="1256.9" cy="1725.2" r="7.75"/><circle cx="1243.2" cy="1724.4" r="7.75"/><circle cx="1244.4" cy="1725.2" r="7.75"/><circle cx="1268.1" cy="1740.1" r="7.75"/><circle cx="1251.9" cy="1756.3" r="7.75"/></g>
<g><path d="M1355.6 1612.2V1683.5M1355.6 1737.6V1758.8" stroke="#0A0A4A" stroke-width="3.2"/><path d="M1340.6 1612.2H1370.6M1340.6 1758.8H1370.6" stroke="#0A0A4A" stroke-width="3"/><rect x="1326.1" y="1683.5" width="59" height="54.1" fill="#7B7DC2" stroke="#0A0A4A" stroke-width="3.3"/><path d="M1326.1 1722.7H1385.1" stroke="#0A0A4A" stroke-width="3.3"/></g>
<g fill="#0A0A8A" stroke="#02021e" stroke-width="2.0"><circle cx="1341.7" cy="1520.7" r="7.75"/><circle cx="1339.7" cy="1611.7" r="7.75"/><circle cx="1337.9" cy="1626.7" r="7.75"/><circle cx="1347.9" cy="1661.6" r="7.75"/><circle cx="1339.2" cy="1668.6" r="7.75"/><circle cx="1354.1" cy="1681" r="7.75"/><circle cx="1367.8" cy="1684" r="7.75"/><circle cx="1345.9" cy="1707.7" r="7.75"/><circle cx="1365.3" cy="1707" r="7.75"/><circle cx="1370.8" cy="1716.9" r="7.75"/><circle cx="1341.7" cy="1718.9" r="7.75"/><circle cx="1337.9" cy="1725.2" r="7.75"/><circle cx="1361.6" cy="1726.4" r="7.75"/><circle cx="1367.8" cy="1723.9" r="7.75"/><circle cx="1355.4" cy="1728.9" r="7.75"/><circle cx="1337.9" cy="1740.1" r="7.75"/><circle cx="1364.1" cy="1738.9" r="7.75"/><circle cx="1359.1" cy="1746.4" r="7.75"/><circle cx="1347.9" cy="1752.6" r="7.75"/><circle cx="1364.1" cy="1755.1" r="7.75"/><circle cx="1369.1" cy="1763.8" r="7.75"/></g>
<g><path d="M1452.9 1479.6V1699M1452.9 1741.4V1761.3" stroke="#520306" stroke-width="3.2"/><path d="M1437.9 1479.6H1467.9M1437.9 1761.3H1467.9" stroke="#520306" stroke-width="3"/><rect x="1423.4" y="1699" width="59" height="42.4" fill="#D8787B" stroke="#520306" stroke-width="3.3"/><path d="M1423.4 1723.9H1482.4" stroke="#520306" stroke-width="3.3"/></g>
<g fill="#B5060E" stroke="#200000" stroke-width="2.0"><circle cx="1458.6" cy="1381.1" r="7.75"/><circle cx="1456.1" cy="1480.1" r="7.75"/><circle cx="1456.9" cy="1593" r="7.75"/><circle cx="1454.9" cy="1657.1" r="7.75"/><circle cx="1441.2" cy="1694" r="7.75"/><circle cx="1443.9" cy="1695.2" r="7.75"/><circle cx="1468.1" cy="1699" r="7.75"/><circle cx="1431.9" cy="1707.7" r="7.75"/><circle cx="1441.9" cy="1707.7" r="7.75"/><circle cx="1462.4" cy="1706.5" r="7.75"/><circle cx="1448.9" cy="1717.7" r="7.75"/><circle cx="1435.7" cy="1723.9" r="7.75"/><circle cx="1464.3" cy="1725.2" r="7.75"/><circle cx="1431.9" cy="1725.2" r="7.75"/><circle cx="1449.4" cy="1728.9" r="7.75"/><circle cx="1458.1" cy="1736.4" r="7.75"/><circle cx="1470.6" cy="1738.9" r="7.75"/><circle cx="1444.9" cy="1740.1" r="7.75"/><circle cx="1468.1" cy="1745.1" r="7.75"/><circle cx="1436.9" cy="1753.8" r="7.75"/><circle cx="1452.6" cy="1753.8" r="7.75"/><circle cx="1466.3" cy="1756.3" r="7.75"/><circle cx="1439.4" cy="1767.6" r="7.75"/></g>
<g><path d="M1550.2 1563.8V1689.8M1550.2 1746.4V1763.8" stroke="#1C4656" stroke-width="3.2"/><path d="M1535.2 1563.8H1565.2M1535.2 1763.8H1565.2" stroke="#1C4656" stroke-width="3"/><rect x="1520.7" y="1689.8" width="59" height="56.6" fill="#9CC5D5" stroke="#1C4656" stroke-width="3.3"/><path d="M1520.7 1730.2H1579.7" stroke="#1C4656" stroke-width="3.3"/></g>
<g fill="#4192B0" stroke="#061820" stroke-width="2.0"><circle cx="1530.9" cy="1357.4" r="7.75"/><circle cx="1534.7" cy="1563.8" r="7.75"/><circle cx="1540.9" cy="1583" r="7.75"/><circle cx="1542.4" cy="1618" r="7.75"/><circle cx="1538.4" cy="1641.6" r="7.75"/><circle cx="1558.4" cy="1681.5" r="7.75"/><circle cx="1545.9" cy="1689.8" r="7.75"/><circle cx="1548.4" cy="1707" r="7.75"/><circle cx="1534.7" cy="1716.9" r="7.75"/><circle cx="1562.1" cy="1716.4" r="7.75"/><circle cx="1538.7" cy="1720.2" r="7.75"/><circle cx="1559.6" cy="1728.9" r="7.75"/><circle cx="1530.9" cy="1733.9" r="7.75"/><circle cx="1549.1" cy="1733.9" r="7.75"/><circle cx="1555.4" cy="1738.9" r="7.75"/><circle cx="1532.9" cy="1748.9" r="7.75"/><circle cx="1536.7" cy="1750.1" r="7.75"/><circle cx="1562.1" cy="1748.9" r="7.75"/><circle cx="1547.9" cy="1761.3" r="7.75"/><circle cx="1557.9" cy="1760.1" r="7.75"/><circle cx="1530.9" cy="1767.6" r="7.75"/><circle cx="1535.4" cy="1767.6" r="7.75"/><circle cx="1564.1" cy="1766.3" r="7.75"/></g>
<g><path d="M1647.5 1610.5V1701.5M1647.5 1738.9V1758.8" stroke="#4A2208" stroke-width="3.2"/><path d="M1632.5 1610.5H1662.5M1632.5 1758.8H1662.5" stroke="#4A2208" stroke-width="3"/><rect x="1618" y="1701.5" width="59" height="37.4" fill="#D7A785" stroke="#4A2208" stroke-width="3.3"/><path d="M1618 1724.4H1677" stroke="#4A2208" stroke-width="3.3"/></g>
<g fill="#AC5412" stroke="#200c00" stroke-width="2.0"><circle cx="1659.1" cy="1490" r="7.75"/><circle cx="1645.4" cy="1609.7" r="7.75"/><circle cx="1653.4" cy="1622.2" r="7.75"/><circle cx="1635.9" cy="1652.9" r="7.75"/><circle cx="1633.4" cy="1666.6" r="7.75"/><circle cx="1645.9" cy="1682" r="7.75"/><circle cx="1649.6" cy="1701.5" r="7.75"/><circle cx="1660.8" cy="1700.2" r="7.75"/><circle cx="1664.6" cy="1709.5" r="7.75"/><circle cx="1643.4" cy="1704" r="7.75"/><circle cx="1653.4" cy="1716.9" r="7.75"/><circle cx="1657.1" cy="1722.7" r="7.75"/><circle cx="1663.3" cy="1721.4" r="7.75"/><circle cx="1645.4" cy="1726.4" r="7.75"/><circle cx="1628.9" cy="1730.9" r="7.75"/><circle cx="1657.9" cy="1731.4" r="7.75"/><circle cx="1639.1" cy="1737.6" r="7.75"/><circle cx="1657.1" cy="1738.9" r="7.75"/><circle cx="1630.4" cy="1746.4" r="7.75"/><circle cx="1643.4" cy="1748.4" r="7.75"/><circle cx="1659.6" cy="1750.9" r="7.75"/><circle cx="1628.9" cy="1756.3" r="7.75"/><circle cx="1633.4" cy="1766.3" r="7.75"/></g>
<g><path d="M1744.8 1700.2V1730.2M1744.8 1755.1V1763.8" stroke="#58500E" stroke-width="3.2"/><path d="M1729.8 1700.2H1759.8M1729.8 1763.8H1759.8" stroke="#58500E" stroke-width="3"/><rect x="1715.3" y="1730.2" width="59" height="24.9" fill="#DCD083" stroke="#58500E" stroke-width="3.3"/><path d="M1715.3 1738.9H1774.3" stroke="#58500E" stroke-width="3.3"/></g>
<g fill="#BBA016" stroke="#201a00" stroke-width="2.0"><circle cx="1743.1" cy="1682" r="7.75"/><circle cx="1733.2" cy="1700.2" r="7.75"/><circle cx="1726.9" cy="1708.5" r="7.75"/><circle cx="1724.9" cy="1722.7" r="7.75"/><circle cx="1752.6" cy="1723.9" r="7.75"/><circle cx="1751.9" cy="1721.4" r="7.75"/><circle cx="1733.2" cy="1731.4" r="7.75"/><circle cx="1763.1" cy="1733.9" r="7.75"/><circle cx="1724.9" cy="1731.4" r="7.75"/><circle cx="1729.4" cy="1741.9" r="7.75"/><circle cx="1754.3" cy="1740.9" r="7.75"/><circle cx="1746.1" cy="1747.6" r="7.75"/><circle cx="1760.6" cy="1748.9" r="7.75"/><circle cx="1756.8" cy="1753.8" r="7.75"/><circle cx="1727.4" cy="1756.3" r="7.75"/><circle cx="1734.4" cy="1761.3" r="7.75"/><circle cx="1751.9" cy="1764.3" r="7.75"/><circle cx="1739.4" cy="1761.3" r="7.75"/><circle cx="1733.2" cy="1767.6" r="7.75"/><circle cx="1743.1" cy="1773.8" r="7.75"/><circle cx="1724.4" cy="1763.8" r="7.75"/></g>
<g><path d="M1842.1 1676V1728.4M1842.1 1772.5V1778.8" stroke="#083E08" stroke-width="3.2"/><path d="M1827.1 1676H1857.1M1827.1 1778.8H1857.1" stroke="#083E08" stroke-width="3"/><rect x="1812.6" y="1728.4" width="59" height="44.1" fill="#80BC80" stroke="#083E08" stroke-width="3.3"/><path d="M1812.6 1758.3H1871.6" stroke="#083E08" stroke-width="3.3"/></g>
<g fill="#0F760F" stroke="#021802" stroke-width="2.0"><circle cx="1834.6" cy="1625.4" r="7.75"/><circle cx="1830.9" cy="1676" r="7.75"/><circle cx="1852.6" cy="1701.5" r="7.75"/><circle cx="1835.9" cy="1718.9" r="7.75"/><circle cx="1830.2" cy="1723.9" r="7.75"/><circle cx="1844.6" cy="1725.2" r="7.75"/><circle cx="1825.2" cy="1733.9" r="7.75"/><circle cx="1840.9" cy="1741.9" r="7.75"/><circle cx="1826.4" cy="1745.1" r="7.75"/><circle cx="1825.2" cy="1757.6" r="7.75"/><circle cx="1832.6" cy="1755.1" r="7.75"/><circle cx="1855.8" cy="1756.3" r="7.75"/><circle cx="1858.8" cy="1753.8" r="7.75"/><circle cx="1840.1" cy="1766.3" r="7.75"/><circle cx="1847.6" cy="1768.8" r="7.75"/><circle cx="1825.2" cy="1768.8" r="7.75"/><circle cx="1828.9" cy="1772.5" r="7.75"/><circle cx="1843.9" cy="1777.5" r="7.75"/><circle cx="1852.6" cy="1775.8" r="7.75"/><circle cx="1823.9" cy="1778.8" r="7.75"/><circle cx="1845.1" cy="1780" r="7.75"/></g>
<g><path d="M1939.4 1688.3V1740.1M1939.4 1770.1V1778.8" stroke="#333333" stroke-width="3.2"/><path d="M1924.4 1688.3H1954.4M1924.4 1778.8H1954.4" stroke="#333333" stroke-width="3"/><rect x="1909.9" y="1740.1" width="59" height="29.9" fill="#B2B2B2" stroke="#333333" stroke-width="3.3"/><path d="M1909.9 1755.1H1968.9" stroke="#333333" stroke-width="3.3"/></g>
<g fill="#6E6E6E" stroke="#111111" stroke-width="2.0"><circle cx="1941.9" cy="1586.8" r="7.75"/><circle cx="1947.8" cy="1688.3" r="7.75"/><circle cx="1930.4" cy="1705.2" r="7.75"/><circle cx="1918.7" cy="1712.7" r="7.75"/><circle cx="1923.7" cy="1719.4" r="7.75"/><circle cx="1936.1" cy="1727.7" r="7.75"/><circle cx="1947.3" cy="1738.9" r="7.75"/><circle cx="1922.4" cy="1743.9" r="7.75"/><circle cx="1957.3" cy="1746.4" r="7.75"/><circle cx="1946.1" cy="1747.6" r="7.75"/><circle cx="1918.7" cy="1751.4" r="7.75"/><circle cx="1941.1" cy="1756.3" r="7.75"/><circle cx="1953.6" cy="1753.8" r="7.75"/><circle cx="1931.1" cy="1762.6" r="7.75"/><circle cx="1926.2" cy="1766.3" r="7.75"/><circle cx="1949.8" cy="1766.3" r="7.75"/><circle cx="1938.6" cy="1773.3" r="7.75"/><circle cx="1929.9" cy="1776.3" r="7.75"/><circle cx="1951.1" cy="1773.8" r="7.75"/><circle cx="1944.9" cy="1776.3" r="7.75"/><circle cx="1921.2" cy="1768.8" r="7.75"/></g>
</g>
<text transform="translate(215.6 1874) rotate(-60)" font-size="44" text-anchor="end" fill="#F6A90A">MutPanning</text>
<text transform="translate(314 1874) rotate(-60)" font-size="44" text-anchor="end" fill="#1220A0">OncodriveFML</text>
<text transform="translate(412.4 1874) rotate(-60)" font-size="44" text-anchor="end" fill="#C0141A">dN/dSCV</text>
<text transform="translate(510.8 1874) rotate(-60)" font-size="44" text-anchor="end" fill="#4A9DBA">MutSigCV</text>
<text transform="translate(609.2 1874) rotate(-60)" font-size="44" text-anchor="end" fill="#B8600F">RF5</text>
<text transform="translate(707.6 1874) rotate(-60)" font-size="44" text-anchor="end" fill="#C1A316">OncodriveFM</text>
<text transform="translate(806 1874) rotate(-60)" font-size="44" text-anchor="end" fill="#0E8A0E">eDriver</text>
<text transform="translate(904.4 1874) rotate(-60)" font-size="44" text-anchor="end" fill="#808080">OncodriveClust</text>
<text transform="translate(1275.3 1874) rotate(-60)" font-size="44" text-anchor="end" fill="#F6A90A">MutPanning</text>
<text transform="translate(1373.5 1874) rotate(-60)" font-size="44" text-anchor="end" fill="#1220A0">OncodriveFML</text>
<text transform="translate(1471.8 1874) rotate(-60)" font-size="44" text-anchor="end" fill="#C0141A">dN/dSCV</text>
<text transform="translate(1570 1874) rotate(-60)" font-size="44" text-anchor="end" fill="#4A9DBA">MutSigCV</text>
<text transform="translate(1668.3 1874) rotate(-60)" font-size="44" text-anchor="end" fill="#B8600F">RF5</text>
<text transform="translate(1766.5 1874) rotate(-60)" font-size="44" text-anchor="end" fill="#C1A316">OncodriveFM</text>
<text transform="translate(1864.8 1874) rotate(-60)" font-size="44" text-anchor="end" fill="#0E8A0E">eDriver</text>
<text transform="translate(1963.1 1874) rotate(-60)" font-size="44" text-anchor="end" fill="#808080">OncodriveClust</text>
</svg>
</body></html>
